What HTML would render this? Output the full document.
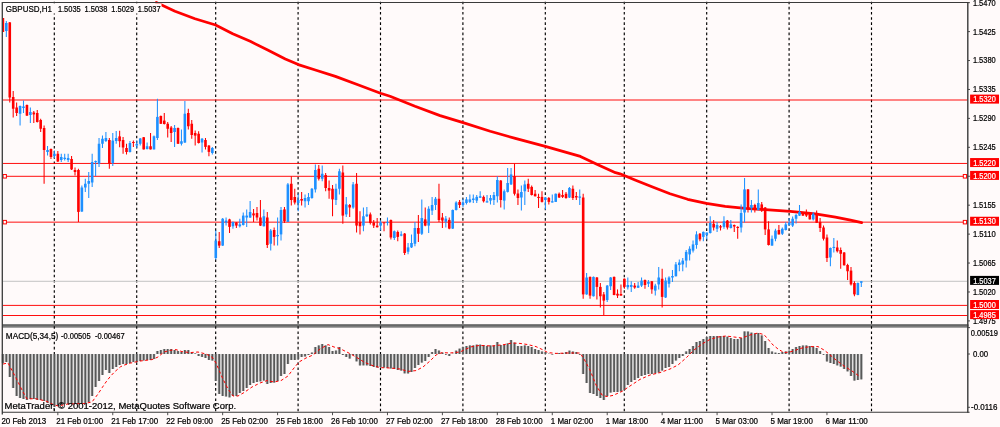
<!DOCTYPE html>
<html lang="en"><head><meta charset="utf-8"><title>GBPUSD,H1</title>
<style>html,body{margin:0;padding:0;background:#fffafa;overflow:hidden}svg{display:block;will-change:transform}text{font-family:"Liberation Sans", Arial, sans-serif;stroke:#000;stroke-width:0.22px}</style>
</head><body>
<svg width="1000" height="427" viewBox="0 0 1000 427">
<rect x="0" y="0" width="1000" height="427" fill="#fffafa"/>
<rect x="2" y="324.1" width="966.4" height="3.6" fill="#7e7e7e"/>
<rect x="2" y="324.7" width="966.4" height="1.4" fill="#676767"/>
<g stroke="#000" stroke-width="1.15" stroke-dasharray="2.6 2.552" fill="none">
<line x1="54.3" y1="1.68" x2="54.3" y2="412"/>
<line x1="136.71" y1="1.68" x2="136.71" y2="412"/>
<line x1="215.68" y1="1.68" x2="215.68" y2="412"/>
<line x1="298.09" y1="1.68" x2="298.09" y2="412"/>
<line x1="380.5" y1="1.68" x2="380.5" y2="412"/>
<line x1="462.9" y1="1.68" x2="462.9" y2="412"/>
<line x1="545.31" y1="1.68" x2="545.31" y2="412"/>
<line x1="624.28" y1="1.68" x2="624.28" y2="412"/>
<line x1="706.69" y1="1.68" x2="706.69" y2="412"/>
<line x1="789.09" y1="1.68" x2="789.09" y2="412"/>
<line x1="871.5" y1="1.68" x2="871.5" y2="412"/>
</g>
<line x1="3" y1="281.3" x2="967" y2="281.3" stroke="#c0c0c0" stroke-width="0.95"/>
<g stroke="#ff0000" stroke-width="0.95">
<line x1="3" y1="100" x2="967.3" y2="100"/>
<line x1="3" y1="163.45" x2="967.3" y2="163.45"/>
<line x1="3" y1="176.3" x2="967.3" y2="176.3"/>
<line x1="3" y1="222.15" x2="967.3" y2="222.15"/>
<line x1="3" y1="305.4" x2="967.3" y2="305.4"/>
<line x1="3" y1="315.5" x2="967.3" y2="315.5"/>
</g>
<g stroke="#cdcdcd" stroke-width="3.1">
<line x1="2.9" y1="354" x2="2.9" y2="363"/>
<line x1="6.33" y1="354" x2="6.33" y2="362"/>
<line x1="9.77" y1="354" x2="9.77" y2="377"/>
<line x1="13.2" y1="354" x2="13.2" y2="388"/>
<line x1="16.63" y1="354" x2="16.63" y2="396"/>
<line x1="20.07" y1="354" x2="20.07" y2="398"/>
<line x1="23.5" y1="354" x2="23.5" y2="399"/>
<line x1="26.94" y1="354" x2="26.94" y2="400"/>
<line x1="30.37" y1="354" x2="30.37" y2="399"/>
<line x1="33.8" y1="354" x2="33.8" y2="399"/>
<line x1="37.24" y1="354" x2="37.24" y2="400"/>
<line x1="40.67" y1="354" x2="40.67" y2="400"/>
<line x1="44.1" y1="354" x2="44.1" y2="401"/>
<line x1="47.54" y1="354" x2="47.54" y2="403"/>
<line x1="50.97" y1="354" x2="50.97" y2="405"/>
<line x1="54.4" y1="354" x2="54.4" y2="407"/>
<line x1="57.84" y1="354" x2="57.84" y2="406"/>
<line x1="61.27" y1="354" x2="61.27" y2="405"/>
<line x1="64.7" y1="354" x2="64.7" y2="404"/>
<line x1="68.14" y1="354" x2="68.14" y2="404"/>
<line x1="71.57" y1="354" x2="71.57" y2="404"/>
<line x1="75.01" y1="354" x2="75.01" y2="404"/>
<line x1="78.44" y1="354" x2="78.44" y2="404"/>
<line x1="81.87" y1="354" x2="81.87" y2="404"/>
<line x1="85.31" y1="354" x2="85.31" y2="403"/>
<line x1="88.74" y1="354" x2="88.74" y2="402"/>
<line x1="92.17" y1="354" x2="92.17" y2="396"/>
<line x1="95.61" y1="354" x2="95.61" y2="387"/>
<line x1="99.04" y1="354" x2="99.04" y2="381"/>
<line x1="102.47" y1="354" x2="102.47" y2="375"/>
<line x1="105.91" y1="354" x2="105.91" y2="370"/>
<line x1="109.34" y1="354" x2="109.34" y2="373"/>
<line x1="112.78" y1="354" x2="112.78" y2="369"/>
<line x1="116.21" y1="354" x2="116.21" y2="367"/>
<line x1="119.64" y1="354" x2="119.64" y2="365"/>
<line x1="123.08" y1="354" x2="123.08" y2="364"/>
<line x1="126.51" y1="354" x2="126.51" y2="364"/>
<line x1="129.94" y1="354" x2="129.94" y2="363"/>
<line x1="133.38" y1="354" x2="133.38" y2="362"/>
<line x1="136.81" y1="354" x2="136.81" y2="362"/>
<line x1="140.24" y1="354" x2="140.24" y2="361"/>
<line x1="143.68" y1="354" x2="143.68" y2="360.5"/>
<line x1="147.11" y1="354" x2="147.11" y2="360"/>
<line x1="150.54" y1="354" x2="150.54" y2="360"/>
<line x1="153.98" y1="354" x2="153.98" y2="359"/>
<line x1="157.41" y1="354" x2="157.41" y2="351"/>
<line x1="160.85" y1="354" x2="160.85" y2="350"/>
<line x1="164.28" y1="354" x2="164.28" y2="349"/>
<line x1="167.71" y1="354" x2="167.71" y2="349"/>
<line x1="171.15" y1="354" x2="171.15" y2="349"/>
<line x1="174.58" y1="354" x2="174.58" y2="350"/>
<line x1="178.01" y1="354" x2="178.01" y2="351"/>
<line x1="181.45" y1="354" x2="181.45" y2="352"/>
<line x1="184.88" y1="354" x2="184.88" y2="350"/>
<line x1="188.31" y1="354" x2="188.31" y2="350"/>
<line x1="191.75" y1="354" x2="191.75" y2="352.6"/>
<line x1="195.18" y1="354" x2="195.18" y2="353.4"/>
<line x1="198.62" y1="354" x2="198.62" y2="356"/>
<line x1="202.05" y1="354" x2="202.05" y2="357"/>
<line x1="205.48" y1="354" x2="205.48" y2="358"/>
<line x1="208.92" y1="354" x2="208.92" y2="360"/>
<line x1="212.35" y1="354" x2="212.35" y2="360.6"/>
<line x1="215.78" y1="354" x2="215.78" y2="381"/>
<line x1="219.22" y1="354" x2="219.22" y2="394"/>
<line x1="222.65" y1="354" x2="222.65" y2="396"/>
<line x1="226.08" y1="354" x2="226.08" y2="396.6"/>
<line x1="229.52" y1="354" x2="229.52" y2="397.4"/>
<line x1="232.95" y1="354" x2="232.95" y2="396"/>
<line x1="236.38" y1="354" x2="236.38" y2="396"/>
<line x1="239.82" y1="354" x2="239.82" y2="393"/>
<line x1="243.25" y1="354" x2="243.25" y2="391"/>
<line x1="246.69" y1="354" x2="246.69" y2="388"/>
<line x1="250.12" y1="354" x2="250.12" y2="385"/>
<line x1="253.55" y1="354" x2="253.55" y2="383"/>
<line x1="256.99" y1="354" x2="256.99" y2="382"/>
<line x1="260.42" y1="354" x2="260.42" y2="381.4"/>
<line x1="263.85" y1="354" x2="263.85" y2="380.6"/>
<line x1="267.29" y1="354" x2="267.29" y2="384"/>
<line x1="270.72" y1="354" x2="270.72" y2="383"/>
<line x1="274.15" y1="354" x2="274.15" y2="382.6"/>
<line x1="277.59" y1="354" x2="277.59" y2="381"/>
<line x1="281.02" y1="354" x2="281.02" y2="376"/>
<line x1="284.46" y1="354" x2="284.46" y2="374"/>
<line x1="287.89" y1="354" x2="287.89" y2="364"/>
<line x1="291.32" y1="354" x2="291.32" y2="360"/>
<line x1="294.76" y1="354" x2="294.76" y2="360"/>
<line x1="298.19" y1="354" x2="298.19" y2="359"/>
<line x1="301.62" y1="354" x2="301.62" y2="357"/>
<line x1="305.06" y1="354" x2="305.06" y2="356.6"/>
<line x1="308.49" y1="354" x2="308.49" y2="355"/>
<line x1="311.92" y1="354" x2="311.92" y2="352.6"/>
<line x1="315.36" y1="354" x2="315.36" y2="347"/>
<line x1="318.79" y1="354" x2="318.79" y2="345.4"/>
<line x1="322.22" y1="354" x2="322.22" y2="344"/>
<line x1="325.66" y1="354" x2="325.66" y2="345.4"/>
<line x1="329.09" y1="354" x2="329.09" y2="347"/>
<line x1="332.53" y1="354" x2="332.53" y2="351"/>
<line x1="335.96" y1="354" x2="335.96" y2="350.6"/>
<line x1="339.39" y1="354" x2="339.39" y2="347"/>
<line x1="342.83" y1="354" x2="342.83" y2="355"/>
<line x1="346.26" y1="354" x2="346.26" y2="357"/>
<line x1="349.69" y1="354" x2="349.69" y2="358.6"/>
<line x1="353.13" y1="354" x2="353.13" y2="355"/>
<line x1="356.56" y1="354" x2="356.56" y2="361.4"/>
<line x1="359.99" y1="354" x2="359.99" y2="365.4"/>
<line x1="363.43" y1="354" x2="363.43" y2="365.4"/>
<line x1="366.86" y1="354" x2="366.86" y2="365.4"/>
<line x1="370.3" y1="354" x2="370.3" y2="366"/>
<line x1="373.73" y1="354" x2="373.73" y2="367"/>
<line x1="377.16" y1="354" x2="377.16" y2="367.6"/>
<line x1="380.6" y1="354" x2="380.6" y2="367"/>
<line x1="384.03" y1="354" x2="384.03" y2="367.6"/>
<line x1="387.46" y1="354" x2="387.46" y2="368"/>
<line x1="390.9" y1="354" x2="390.9" y2="368.6"/>
<line x1="394.33" y1="354" x2="394.33" y2="369"/>
<line x1="397.76" y1="354" x2="397.76" y2="370"/>
<line x1="401.2" y1="354" x2="401.2" y2="370.6"/>
<line x1="404.63" y1="354" x2="404.63" y2="373.4"/>
<line x1="408.06" y1="354" x2="408.06" y2="373.4"/>
<line x1="411.5" y1="354" x2="411.5" y2="372"/>
<line x1="414.93" y1="354" x2="414.93" y2="368"/>
<line x1="418.37" y1="354" x2="418.37" y2="365"/>
<line x1="421.8" y1="354" x2="421.8" y2="362.6"/>
<line x1="425.23" y1="354" x2="425.23" y2="361"/>
<line x1="428.67" y1="354" x2="428.67" y2="357"/>
<line x1="432.1" y1="354" x2="432.1" y2="352"/>
<line x1="435.53" y1="354" x2="435.53" y2="349"/>
<line x1="438.97" y1="354" x2="438.97" y2="350.6"/>
<line x1="442.4" y1="354" x2="442.4" y2="352.6"/>
<line x1="449.27" y1="354" x2="449.27" y2="356"/>
<line x1="456.14" y1="354" x2="456.14" y2="350.6"/>
<line x1="459.57" y1="354" x2="459.57" y2="348.6"/>
<line x1="463" y1="354" x2="463" y2="347"/>
<line x1="466.44" y1="354" x2="466.44" y2="346"/>
<line x1="469.87" y1="354" x2="469.87" y2="345.4"/>
<line x1="473.3" y1="354" x2="473.3" y2="345.4"/>
<line x1="476.74" y1="354" x2="476.74" y2="344.6"/>
<line x1="480.17" y1="354" x2="480.17" y2="344.6"/>
<line x1="483.6" y1="354" x2="483.6" y2="345"/>
<line x1="487.04" y1="354" x2="487.04" y2="346"/>
<line x1="490.47" y1="354" x2="490.47" y2="345.4"/>
<line x1="493.9" y1="354" x2="493.9" y2="345.4"/>
<line x1="497.34" y1="354" x2="497.34" y2="342"/>
<line x1="500.77" y1="354" x2="500.77" y2="345"/>
<line x1="504.21" y1="354" x2="504.21" y2="345"/>
<line x1="507.64" y1="354" x2="507.64" y2="343.4"/>
<line x1="511.07" y1="354" x2="511.07" y2="340"/>
<line x1="514.51" y1="354" x2="514.51" y2="342.6"/>
<line x1="517.94" y1="354" x2="517.94" y2="346"/>
<line x1="521.37" y1="354" x2="521.37" y2="346"/>
<line x1="524.81" y1="354" x2="524.81" y2="345.4"/>
<line x1="528.24" y1="354" x2="528.24" y2="346"/>
<line x1="531.67" y1="354" x2="531.67" y2="347"/>
<line x1="535.11" y1="354" x2="535.11" y2="349"/>
<line x1="538.54" y1="354" x2="538.54" y2="350"/>
<line x1="541.98" y1="354" x2="541.98" y2="351.4"/>
<line x1="545.41" y1="354" x2="545.41" y2="352"/>
<line x1="552.28" y1="354" x2="552.28" y2="354.6"/>
<line x1="559.14" y1="354" x2="559.14" y2="353"/>
<line x1="562.58" y1="354" x2="562.58" y2="353"/>
<line x1="566.01" y1="354" x2="566.01" y2="352"/>
<line x1="569.44" y1="354" x2="569.44" y2="350.6"/>
<line x1="572.88" y1="354" x2="572.88" y2="351.4"/>
<line x1="576.31" y1="354" x2="576.31" y2="352"/>
<line x1="583.18" y1="354" x2="583.18" y2="374"/>
<line x1="586.61" y1="354" x2="586.61" y2="383"/>
<line x1="590.05" y1="354" x2="590.05" y2="393"/>
<line x1="593.48" y1="354" x2="593.48" y2="394"/>
<line x1="596.91" y1="354" x2="596.91" y2="396"/>
<line x1="600.35" y1="354" x2="600.35" y2="398"/>
<line x1="603.78" y1="354" x2="603.78" y2="400"/>
<line x1="607.21" y1="354" x2="607.21" y2="396"/>
<line x1="610.65" y1="354" x2="610.65" y2="392.6"/>
<line x1="614.08" y1="354" x2="614.08" y2="392"/>
<line x1="617.51" y1="354" x2="617.51" y2="392"/>
<line x1="620.95" y1="354" x2="620.95" y2="391.4"/>
<line x1="624.38" y1="354" x2="624.38" y2="390"/>
<line x1="627.82" y1="354" x2="627.82" y2="385"/>
<line x1="631.25" y1="354" x2="631.25" y2="382"/>
<line x1="634.68" y1="354" x2="634.68" y2="380"/>
<line x1="638.12" y1="354" x2="638.12" y2="378"/>
<line x1="641.55" y1="354" x2="641.55" y2="376"/>
<line x1="644.98" y1="354" x2="644.98" y2="375"/>
<line x1="648.42" y1="354" x2="648.42" y2="374"/>
<line x1="651.85" y1="354" x2="651.85" y2="374"/>
<line x1="655.28" y1="354" x2="655.28" y2="373.4"/>
<line x1="658.72" y1="354" x2="658.72" y2="372.6"/>
<line x1="662.15" y1="354" x2="662.15" y2="370.6"/>
<line x1="665.58" y1="354" x2="665.58" y2="368"/>
<line x1="669.02" y1="354" x2="669.02" y2="367"/>
<line x1="672.45" y1="354" x2="672.45" y2="364"/>
<line x1="675.89" y1="354" x2="675.89" y2="360.6"/>
<line x1="679.32" y1="354" x2="679.32" y2="358"/>
<line x1="682.75" y1="354" x2="682.75" y2="356"/>
<line x1="686.19" y1="354" x2="686.19" y2="351.4"/>
<line x1="689.62" y1="354" x2="689.62" y2="349"/>
<line x1="693.05" y1="354" x2="693.05" y2="346"/>
<line x1="696.49" y1="354" x2="696.49" y2="342"/>
<line x1="699.92" y1="354" x2="699.92" y2="341"/>
<line x1="703.35" y1="354" x2="703.35" y2="339"/>
<line x1="706.79" y1="354" x2="706.79" y2="337"/>
<line x1="710.22" y1="354" x2="710.22" y2="336"/>
<line x1="713.66" y1="354" x2="713.66" y2="336"/>
<line x1="717.09" y1="354" x2="717.09" y2="336"/>
<line x1="720.52" y1="354" x2="720.52" y2="336"/>
<line x1="723.96" y1="354" x2="723.96" y2="336"/>
<line x1="727.39" y1="354" x2="727.39" y2="336.6"/>
<line x1="730.82" y1="354" x2="730.82" y2="338"/>
<line x1="734.26" y1="354" x2="734.26" y2="339"/>
<line x1="737.69" y1="354" x2="737.69" y2="339"/>
<line x1="741.12" y1="354" x2="741.12" y2="338"/>
<line x1="744.56" y1="354" x2="744.56" y2="331.4"/>
<line x1="747.99" y1="354" x2="747.99" y2="331.4"/>
<line x1="751.42" y1="354" x2="751.42" y2="332.6"/>
<line x1="754.86" y1="354" x2="754.86" y2="333.4"/>
<line x1="758.29" y1="354" x2="758.29" y2="333"/>
<line x1="761.73" y1="354" x2="761.73" y2="335.4"/>
<line x1="765.16" y1="354" x2="765.16" y2="341"/>
<line x1="768.59" y1="354" x2="768.59" y2="348"/>
<line x1="772.03" y1="354" x2="772.03" y2="351.4"/>
<line x1="775.46" y1="354" x2="775.46" y2="352.6"/>
<line x1="778.89" y1="354" x2="778.89" y2="353"/>
<line x1="782.33" y1="354" x2="782.33" y2="352"/>
<line x1="785.76" y1="354" x2="785.76" y2="351.4"/>
<line x1="789.19" y1="354" x2="789.19" y2="350.6"/>
<line x1="792.63" y1="354" x2="792.63" y2="349"/>
<line x1="796.06" y1="354" x2="796.06" y2="347"/>
<line x1="799.5" y1="354" x2="799.5" y2="346"/>
<line x1="802.93" y1="354" x2="802.93" y2="345.4"/>
<line x1="806.36" y1="354" x2="806.36" y2="345.4"/>
<line x1="809.8" y1="354" x2="809.8" y2="346"/>
<line x1="813.23" y1="354" x2="813.23" y2="346.6"/>
<line x1="816.66" y1="354" x2="816.66" y2="348"/>
<line x1="820.1" y1="354" x2="820.1" y2="351"/>
<line x1="826.96" y1="354" x2="826.96" y2="361.4"/>
<line x1="830.4" y1="354" x2="830.4" y2="363"/>
<line x1="833.83" y1="354" x2="833.83" y2="364"/>
<line x1="837.26" y1="354" x2="837.26" y2="365.4"/>
<line x1="840.7" y1="354" x2="840.7" y2="366.6"/>
<line x1="844.13" y1="354" x2="844.13" y2="369"/>
<line x1="847.57" y1="354" x2="847.57" y2="371.4"/>
<line x1="851" y1="354" x2="851" y2="376"/>
<line x1="854.43" y1="354" x2="854.43" y2="380.6"/>
<line x1="857.87" y1="354" x2="857.87" y2="380"/>
<line x1="861.3" y1="354" x2="861.3" y2="379.4"/>
</g>
<g stroke="#585858" stroke-width="1.75">
<line x1="2.9" y1="354" x2="2.9" y2="363"/>
<line x1="6.33" y1="354" x2="6.33" y2="362"/>
<line x1="9.77" y1="354" x2="9.77" y2="377"/>
<line x1="13.2" y1="354" x2="13.2" y2="388"/>
<line x1="16.63" y1="354" x2="16.63" y2="396"/>
<line x1="20.07" y1="354" x2="20.07" y2="398"/>
<line x1="23.5" y1="354" x2="23.5" y2="399"/>
<line x1="26.94" y1="354" x2="26.94" y2="400"/>
<line x1="30.37" y1="354" x2="30.37" y2="399"/>
<line x1="33.8" y1="354" x2="33.8" y2="399"/>
<line x1="37.24" y1="354" x2="37.24" y2="400"/>
<line x1="40.67" y1="354" x2="40.67" y2="400"/>
<line x1="44.1" y1="354" x2="44.1" y2="401"/>
<line x1="47.54" y1="354" x2="47.54" y2="403"/>
<line x1="50.97" y1="354" x2="50.97" y2="405"/>
<line x1="54.4" y1="354" x2="54.4" y2="407"/>
<line x1="57.84" y1="354" x2="57.84" y2="406"/>
<line x1="61.27" y1="354" x2="61.27" y2="405"/>
<line x1="64.7" y1="354" x2="64.7" y2="404"/>
<line x1="68.14" y1="354" x2="68.14" y2="404"/>
<line x1="71.57" y1="354" x2="71.57" y2="404"/>
<line x1="75.01" y1="354" x2="75.01" y2="404"/>
<line x1="78.44" y1="354" x2="78.44" y2="404"/>
<line x1="81.87" y1="354" x2="81.87" y2="404"/>
<line x1="85.31" y1="354" x2="85.31" y2="403"/>
<line x1="88.74" y1="354" x2="88.74" y2="402"/>
<line x1="92.17" y1="354" x2="92.17" y2="396"/>
<line x1="95.61" y1="354" x2="95.61" y2="387"/>
<line x1="99.04" y1="354" x2="99.04" y2="381"/>
<line x1="102.47" y1="354" x2="102.47" y2="375"/>
<line x1="105.91" y1="354" x2="105.91" y2="370"/>
<line x1="109.34" y1="354" x2="109.34" y2="373"/>
<line x1="112.78" y1="354" x2="112.78" y2="369"/>
<line x1="116.21" y1="354" x2="116.21" y2="367"/>
<line x1="119.64" y1="354" x2="119.64" y2="365"/>
<line x1="123.08" y1="354" x2="123.08" y2="364"/>
<line x1="126.51" y1="354" x2="126.51" y2="364"/>
<line x1="129.94" y1="354" x2="129.94" y2="363"/>
<line x1="133.38" y1="354" x2="133.38" y2="362"/>
<line x1="136.81" y1="354" x2="136.81" y2="362"/>
<line x1="140.24" y1="354" x2="140.24" y2="361"/>
<line x1="143.68" y1="354" x2="143.68" y2="360.5"/>
<line x1="147.11" y1="354" x2="147.11" y2="360"/>
<line x1="150.54" y1="354" x2="150.54" y2="360"/>
<line x1="153.98" y1="354" x2="153.98" y2="359"/>
<line x1="157.41" y1="354" x2="157.41" y2="351"/>
<line x1="160.85" y1="354" x2="160.85" y2="350"/>
<line x1="164.28" y1="354" x2="164.28" y2="349"/>
<line x1="167.71" y1="354" x2="167.71" y2="349"/>
<line x1="171.15" y1="354" x2="171.15" y2="349"/>
<line x1="174.58" y1="354" x2="174.58" y2="350"/>
<line x1="178.01" y1="354" x2="178.01" y2="351"/>
<line x1="181.45" y1="354" x2="181.45" y2="352"/>
<line x1="184.88" y1="354" x2="184.88" y2="350"/>
<line x1="188.31" y1="354" x2="188.31" y2="350"/>
<line x1="191.75" y1="354" x2="191.75" y2="352.6"/>
<line x1="195.18" y1="354" x2="195.18" y2="353.4"/>
<line x1="198.62" y1="354" x2="198.62" y2="356"/>
<line x1="202.05" y1="354" x2="202.05" y2="357"/>
<line x1="205.48" y1="354" x2="205.48" y2="358"/>
<line x1="208.92" y1="354" x2="208.92" y2="360"/>
<line x1="212.35" y1="354" x2="212.35" y2="360.6"/>
<line x1="215.78" y1="354" x2="215.78" y2="381"/>
<line x1="219.22" y1="354" x2="219.22" y2="394"/>
<line x1="222.65" y1="354" x2="222.65" y2="396"/>
<line x1="226.08" y1="354" x2="226.08" y2="396.6"/>
<line x1="229.52" y1="354" x2="229.52" y2="397.4"/>
<line x1="232.95" y1="354" x2="232.95" y2="396"/>
<line x1="236.38" y1="354" x2="236.38" y2="396"/>
<line x1="239.82" y1="354" x2="239.82" y2="393"/>
<line x1="243.25" y1="354" x2="243.25" y2="391"/>
<line x1="246.69" y1="354" x2="246.69" y2="388"/>
<line x1="250.12" y1="354" x2="250.12" y2="385"/>
<line x1="253.55" y1="354" x2="253.55" y2="383"/>
<line x1="256.99" y1="354" x2="256.99" y2="382"/>
<line x1="260.42" y1="354" x2="260.42" y2="381.4"/>
<line x1="263.85" y1="354" x2="263.85" y2="380.6"/>
<line x1="267.29" y1="354" x2="267.29" y2="384"/>
<line x1="270.72" y1="354" x2="270.72" y2="383"/>
<line x1="274.15" y1="354" x2="274.15" y2="382.6"/>
<line x1="277.59" y1="354" x2="277.59" y2="381"/>
<line x1="281.02" y1="354" x2="281.02" y2="376"/>
<line x1="284.46" y1="354" x2="284.46" y2="374"/>
<line x1="287.89" y1="354" x2="287.89" y2="364"/>
<line x1="291.32" y1="354" x2="291.32" y2="360"/>
<line x1="294.76" y1="354" x2="294.76" y2="360"/>
<line x1="298.19" y1="354" x2="298.19" y2="359"/>
<line x1="301.62" y1="354" x2="301.62" y2="357"/>
<line x1="305.06" y1="354" x2="305.06" y2="356.6"/>
<line x1="308.49" y1="354" x2="308.49" y2="355"/>
<line x1="311.92" y1="354" x2="311.92" y2="352.6"/>
<line x1="315.36" y1="354" x2="315.36" y2="347"/>
<line x1="318.79" y1="354" x2="318.79" y2="345.4"/>
<line x1="322.22" y1="354" x2="322.22" y2="344"/>
<line x1="325.66" y1="354" x2="325.66" y2="345.4"/>
<line x1="329.09" y1="354" x2="329.09" y2="347"/>
<line x1="332.53" y1="354" x2="332.53" y2="351"/>
<line x1="335.96" y1="354" x2="335.96" y2="350.6"/>
<line x1="339.39" y1="354" x2="339.39" y2="347"/>
<line x1="342.83" y1="354" x2="342.83" y2="355"/>
<line x1="346.26" y1="354" x2="346.26" y2="357"/>
<line x1="349.69" y1="354" x2="349.69" y2="358.6"/>
<line x1="353.13" y1="354" x2="353.13" y2="355"/>
<line x1="356.56" y1="354" x2="356.56" y2="361.4"/>
<line x1="359.99" y1="354" x2="359.99" y2="365.4"/>
<line x1="363.43" y1="354" x2="363.43" y2="365.4"/>
<line x1="366.86" y1="354" x2="366.86" y2="365.4"/>
<line x1="370.3" y1="354" x2="370.3" y2="366"/>
<line x1="373.73" y1="354" x2="373.73" y2="367"/>
<line x1="377.16" y1="354" x2="377.16" y2="367.6"/>
<line x1="380.6" y1="354" x2="380.6" y2="367"/>
<line x1="384.03" y1="354" x2="384.03" y2="367.6"/>
<line x1="387.46" y1="354" x2="387.46" y2="368"/>
<line x1="390.9" y1="354" x2="390.9" y2="368.6"/>
<line x1="394.33" y1="354" x2="394.33" y2="369"/>
<line x1="397.76" y1="354" x2="397.76" y2="370"/>
<line x1="401.2" y1="354" x2="401.2" y2="370.6"/>
<line x1="404.63" y1="354" x2="404.63" y2="373.4"/>
<line x1="408.06" y1="354" x2="408.06" y2="373.4"/>
<line x1="411.5" y1="354" x2="411.5" y2="372"/>
<line x1="414.93" y1="354" x2="414.93" y2="368"/>
<line x1="418.37" y1="354" x2="418.37" y2="365"/>
<line x1="421.8" y1="354" x2="421.8" y2="362.6"/>
<line x1="425.23" y1="354" x2="425.23" y2="361"/>
<line x1="428.67" y1="354" x2="428.67" y2="357"/>
<line x1="432.1" y1="354" x2="432.1" y2="352"/>
<line x1="435.53" y1="354" x2="435.53" y2="349"/>
<line x1="438.97" y1="354" x2="438.97" y2="350.6"/>
<line x1="442.4" y1="354" x2="442.4" y2="352.6"/>
<line x1="445.83" y1="354" x2="445.83" y2="354.9"/>
<line x1="449.27" y1="354" x2="449.27" y2="356"/>
<line x1="452.7" y1="354" x2="452.7" y2="353.6"/>
<line x1="456.14" y1="354" x2="456.14" y2="350.6"/>
<line x1="459.57" y1="354" x2="459.57" y2="348.6"/>
<line x1="463" y1="354" x2="463" y2="347"/>
<line x1="466.44" y1="354" x2="466.44" y2="346"/>
<line x1="469.87" y1="354" x2="469.87" y2="345.4"/>
<line x1="473.3" y1="354" x2="473.3" y2="345.4"/>
<line x1="476.74" y1="354" x2="476.74" y2="344.6"/>
<line x1="480.17" y1="354" x2="480.17" y2="344.6"/>
<line x1="483.6" y1="354" x2="483.6" y2="345"/>
<line x1="487.04" y1="354" x2="487.04" y2="346"/>
<line x1="490.47" y1="354" x2="490.47" y2="345.4"/>
<line x1="493.9" y1="354" x2="493.9" y2="345.4"/>
<line x1="497.34" y1="354" x2="497.34" y2="342"/>
<line x1="500.77" y1="354" x2="500.77" y2="345"/>
<line x1="504.21" y1="354" x2="504.21" y2="345"/>
<line x1="507.64" y1="354" x2="507.64" y2="343.4"/>
<line x1="511.07" y1="354" x2="511.07" y2="340"/>
<line x1="514.51" y1="354" x2="514.51" y2="342.6"/>
<line x1="517.94" y1="354" x2="517.94" y2="346"/>
<line x1="521.37" y1="354" x2="521.37" y2="346"/>
<line x1="524.81" y1="354" x2="524.81" y2="345.4"/>
<line x1="528.24" y1="354" x2="528.24" y2="346"/>
<line x1="531.67" y1="354" x2="531.67" y2="347"/>
<line x1="535.11" y1="354" x2="535.11" y2="349"/>
<line x1="538.54" y1="354" x2="538.54" y2="350"/>
<line x1="541.98" y1="354" x2="541.98" y2="351.4"/>
<line x1="545.41" y1="354" x2="545.41" y2="352"/>
<line x1="548.84" y1="354" x2="548.84" y2="353.6"/>
<line x1="552.28" y1="354" x2="552.28" y2="354.6"/>
<line x1="555.71" y1="354" x2="555.71" y2="353.6"/>
<line x1="559.14" y1="354" x2="559.14" y2="353"/>
<line x1="562.58" y1="354" x2="562.58" y2="353"/>
<line x1="566.01" y1="354" x2="566.01" y2="352"/>
<line x1="569.44" y1="354" x2="569.44" y2="350.6"/>
<line x1="572.88" y1="354" x2="572.88" y2="351.4"/>
<line x1="576.31" y1="354" x2="576.31" y2="352"/>
<line x1="579.74" y1="354" x2="579.74" y2="354.9"/>
<line x1="583.18" y1="354" x2="583.18" y2="374"/>
<line x1="586.61" y1="354" x2="586.61" y2="383"/>
<line x1="590.05" y1="354" x2="590.05" y2="393"/>
<line x1="593.48" y1="354" x2="593.48" y2="394"/>
<line x1="596.91" y1="354" x2="596.91" y2="396"/>
<line x1="600.35" y1="354" x2="600.35" y2="398"/>
<line x1="603.78" y1="354" x2="603.78" y2="400"/>
<line x1="607.21" y1="354" x2="607.21" y2="396"/>
<line x1="610.65" y1="354" x2="610.65" y2="392.6"/>
<line x1="614.08" y1="354" x2="614.08" y2="392"/>
<line x1="617.51" y1="354" x2="617.51" y2="392"/>
<line x1="620.95" y1="354" x2="620.95" y2="391.4"/>
<line x1="624.38" y1="354" x2="624.38" y2="390"/>
<line x1="627.82" y1="354" x2="627.82" y2="385"/>
<line x1="631.25" y1="354" x2="631.25" y2="382"/>
<line x1="634.68" y1="354" x2="634.68" y2="380"/>
<line x1="638.12" y1="354" x2="638.12" y2="378"/>
<line x1="641.55" y1="354" x2="641.55" y2="376"/>
<line x1="644.98" y1="354" x2="644.98" y2="375"/>
<line x1="648.42" y1="354" x2="648.42" y2="374"/>
<line x1="651.85" y1="354" x2="651.85" y2="374"/>
<line x1="655.28" y1="354" x2="655.28" y2="373.4"/>
<line x1="658.72" y1="354" x2="658.72" y2="372.6"/>
<line x1="662.15" y1="354" x2="662.15" y2="370.6"/>
<line x1="665.58" y1="354" x2="665.58" y2="368"/>
<line x1="669.02" y1="354" x2="669.02" y2="367"/>
<line x1="672.45" y1="354" x2="672.45" y2="364"/>
<line x1="675.89" y1="354" x2="675.89" y2="360.6"/>
<line x1="679.32" y1="354" x2="679.32" y2="358"/>
<line x1="682.75" y1="354" x2="682.75" y2="356"/>
<line x1="686.19" y1="354" x2="686.19" y2="351.4"/>
<line x1="689.62" y1="354" x2="689.62" y2="349"/>
<line x1="693.05" y1="354" x2="693.05" y2="346"/>
<line x1="696.49" y1="354" x2="696.49" y2="342"/>
<line x1="699.92" y1="354" x2="699.92" y2="341"/>
<line x1="703.35" y1="354" x2="703.35" y2="339"/>
<line x1="706.79" y1="354" x2="706.79" y2="337"/>
<line x1="710.22" y1="354" x2="710.22" y2="336"/>
<line x1="713.66" y1="354" x2="713.66" y2="336"/>
<line x1="717.09" y1="354" x2="717.09" y2="336"/>
<line x1="720.52" y1="354" x2="720.52" y2="336"/>
<line x1="723.96" y1="354" x2="723.96" y2="336"/>
<line x1="727.39" y1="354" x2="727.39" y2="336.6"/>
<line x1="730.82" y1="354" x2="730.82" y2="338"/>
<line x1="734.26" y1="354" x2="734.26" y2="339"/>
<line x1="737.69" y1="354" x2="737.69" y2="339"/>
<line x1="741.12" y1="354" x2="741.12" y2="338"/>
<line x1="744.56" y1="354" x2="744.56" y2="331.4"/>
<line x1="747.99" y1="354" x2="747.99" y2="331.4"/>
<line x1="751.42" y1="354" x2="751.42" y2="332.6"/>
<line x1="754.86" y1="354" x2="754.86" y2="333.4"/>
<line x1="758.29" y1="354" x2="758.29" y2="333"/>
<line x1="761.73" y1="354" x2="761.73" y2="335.4"/>
<line x1="765.16" y1="354" x2="765.16" y2="341"/>
<line x1="768.59" y1="354" x2="768.59" y2="348"/>
<line x1="772.03" y1="354" x2="772.03" y2="351.4"/>
<line x1="775.46" y1="354" x2="775.46" y2="352.6"/>
<line x1="778.89" y1="354" x2="778.89" y2="353"/>
<line x1="782.33" y1="354" x2="782.33" y2="352"/>
<line x1="785.76" y1="354" x2="785.76" y2="351.4"/>
<line x1="789.19" y1="354" x2="789.19" y2="350.6"/>
<line x1="792.63" y1="354" x2="792.63" y2="349"/>
<line x1="796.06" y1="354" x2="796.06" y2="347"/>
<line x1="799.5" y1="354" x2="799.5" y2="346"/>
<line x1="802.93" y1="354" x2="802.93" y2="345.4"/>
<line x1="806.36" y1="354" x2="806.36" y2="345.4"/>
<line x1="809.8" y1="354" x2="809.8" y2="346"/>
<line x1="813.23" y1="354" x2="813.23" y2="346.6"/>
<line x1="816.66" y1="354" x2="816.66" y2="348"/>
<line x1="820.1" y1="354" x2="820.1" y2="351"/>
<line x1="823.53" y1="354" x2="823.53" y2="354.9"/>
<line x1="826.96" y1="354" x2="826.96" y2="361.4"/>
<line x1="830.4" y1="354" x2="830.4" y2="363"/>
<line x1="833.83" y1="354" x2="833.83" y2="364"/>
<line x1="837.26" y1="354" x2="837.26" y2="365.4"/>
<line x1="840.7" y1="354" x2="840.7" y2="366.6"/>
<line x1="844.13" y1="354" x2="844.13" y2="369"/>
<line x1="847.57" y1="354" x2="847.57" y2="371.4"/>
<line x1="851" y1="354" x2="851" y2="376"/>
<line x1="854.43" y1="354" x2="854.43" y2="380.6"/>
<line x1="857.87" y1="354" x2="857.87" y2="380"/>
<line x1="861.3" y1="354" x2="861.3" y2="379.4"/>
</g>
<polyline fill="none" stroke="#ff0000" stroke-width="1" stroke-dasharray="3 2.4" points="3,364 8,363 15,376 22,390 27,399 35,398.6 46,401 53,404.4 58,406 68,404 84,403.6 92,402 98,394 102.4,387.3 106,382 110.5,376.2 115,371.5 120.6,366.7 125,364.8 130.6,363.1 139.7,361.1 152,359.6 158,357 164,352 170,350.4 176,349.6 182,351.6 190,352.6 198,352 206,354 212,357 216,363 222,377 228,389 233,396 238,396 244,392.6 252,387 260,383 267,380.6 274,382 281,380.6 288,376 294,368 299,362 306,358 313,355 320,349 328,344.6 334,347 340,348.6 348,352.6 356,357 364,362 372,365.4 380,367.6 390,368 400,369 408,371.4 416,370.6 423,367 430,361 436,355 442,352.6 450,353 460,352 466,349 472,346.6 480,345.4 492,346 504,344.6 512,343 520,343.4 528,344.6 536,346.6 542,349.4 548,352.6 556,353.4 568,353 580,353 584,359 590,370 596,385 602,395 607,396.6 613,395.4 622,391.4 630,386 640,379.4 650,375 660,372.6 670,369 678,365 686,358 694,350 702,344 710,339.4 718,337 726,336 734,337 742,338 750,335 758,333 764,334.6 769.6,341 772,344 778,349 784,352.6 790,352 796,350 802,348 810,346.6 818,346.6 824,350 829,354 836,360 844,366 852,371 859,376"/>
<polyline fill="none" stroke="#ff0000" stroke-width="2.75" stroke-linejoin="round" stroke-linecap="round" points="156.3,2.5 175,11.3 195,18.8 215.6,25 232.7,33.8 250.2,41.3 267.7,50 285.3,58.9 298.3,64.6 315.3,70 335.4,76.4 357.9,84.7 380.5,93.2 390,96.3 415,106.3 440.1,115.6 463.1,122.6 490.2,131.3 515.3,138.4 545.3,146.4 565.4,152.1 580.4,156.4 597.9,164.7 615.5,172.7 620,173.8 635,180 652.6,187 670,193.8 687.6,199.3 706.4,203.4 725.2,206.4 745.3,208.4 765.3,209.6 790.3,211.4 815.4,213.9 835.4,217.1 850.5,220.1 861.7,222.6"/>
<clipPath id="cc"><rect x="2.6" y="3" width="964.6" height="321"/></clipPath>
<g clip-path="url(#cc)">
<line x1="2.9" y1="18" x2="2.9" y2="32" stroke="#ff0000" stroke-width="1.05"/>
<rect x="1.6" y="18" width="2.6" height="14" fill="#ff0000"/>
<line x1="6.33" y1="21" x2="6.33" y2="37" stroke="#1e90ff" stroke-width="1.05"/>
<rect x="5.03" y="23" width="2.6" height="8" fill="#1e90ff"/>
<line x1="9.77" y1="22" x2="9.77" y2="102.5" stroke="#ff0000" stroke-width="1.05"/>
<rect x="8.47" y="22.4" width="2.6" height="75.1" fill="#ff0000"/>
<line x1="13.2" y1="91" x2="13.2" y2="117.5" stroke="#ff0000" stroke-width="1.05"/>
<rect x="11.9" y="97" width="2.6" height="11.75" fill="#ff0000"/>
<line x1="16.63" y1="102.5" x2="16.63" y2="116" stroke="#ff0000" stroke-width="1.05"/>
<rect x="15.33" y="107.5" width="2.6" height="5.5" fill="#ff0000"/>
<line x1="20.07" y1="105.6" x2="20.07" y2="125.6" stroke="#1e90ff" stroke-width="1.05"/>
<rect x="18.77" y="106" width="2.6" height="7.75" fill="#1e90ff"/>
<line x1="23.5" y1="100.6" x2="23.5" y2="113" stroke="#1e90ff" stroke-width="1.05"/>
<rect x="22.2" y="106.5" width="2.6" height="1.5" fill="#1e90ff"/>
<line x1="26.94" y1="104.5" x2="26.94" y2="116" stroke="#ff0000" stroke-width="1.05"/>
<rect x="25.64" y="105" width="2.6" height="10.6" fill="#ff0000"/>
<line x1="30.37" y1="107.5" x2="30.37" y2="123" stroke="#1e90ff" stroke-width="1.05"/>
<rect x="29.07" y="112" width="2.6" height="3" fill="#1e90ff"/>
<line x1="33.8" y1="111" x2="33.8" y2="123" stroke="#ff0000" stroke-width="1.05"/>
<rect x="32.5" y="112.5" width="2.6" height="1.9" fill="#ff0000"/>
<line x1="37.24" y1="110" x2="37.24" y2="122.5" stroke="#ff0000" stroke-width="1.05"/>
<rect x="35.94" y="113" width="2.6" height="9" fill="#ff0000"/>
<line x1="40.67" y1="118.75" x2="40.67" y2="132" stroke="#ff0000" stroke-width="1.05"/>
<rect x="39.37" y="120" width="2.6" height="8.75" fill="#ff0000"/>
<line x1="44.1" y1="125.6" x2="44.1" y2="183.75" stroke="#ff0000" stroke-width="1.05"/>
<rect x="42.8" y="128" width="2.6" height="22" fill="#ff0000"/>
<line x1="47.54" y1="146" x2="47.54" y2="155.6" stroke="#1e90ff" stroke-width="1.05"/>
<rect x="46.24" y="150" width="2.6" height="2" fill="#1e90ff"/>
<line x1="50.97" y1="148.5" x2="50.97" y2="159" stroke="#ff0000" stroke-width="1.05"/>
<rect x="49.67" y="149" width="2.6" height="8" fill="#ff0000"/>
<line x1="54.4" y1="150.6" x2="54.4" y2="158" stroke="#1e90ff" stroke-width="1.05"/>
<rect x="53.1" y="153.75" width="2.6" height="2.25" fill="#1e90ff"/>
<line x1="57.84" y1="151" x2="57.84" y2="162" stroke="#ff0000" stroke-width="1.05"/>
<rect x="56.54" y="153.75" width="2.6" height="7.75" fill="#ff0000"/>
<line x1="61.27" y1="153.75" x2="61.27" y2="162" stroke="#1e90ff" stroke-width="1.05"/>
<rect x="59.97" y="157" width="2.6" height="3" fill="#1e90ff"/>
<line x1="64.7" y1="153.75" x2="64.7" y2="160.6" stroke="#1e90ff" stroke-width="1.05"/>
<rect x="63.4" y="157.75" width="2.6" height="1.25" fill="#1e90ff"/>
<line x1="68.14" y1="153.75" x2="68.14" y2="162" stroke="#1e90ff" stroke-width="1.05"/>
<rect x="66.84" y="158" width="2.6" height="2" fill="#1e90ff"/>
<line x1="71.57" y1="156" x2="71.57" y2="170" stroke="#ff0000" stroke-width="1.05"/>
<rect x="70.27" y="159" width="2.6" height="10.4" fill="#ff0000"/>
<line x1="75.01" y1="167.5" x2="75.01" y2="175.6" stroke="#ff0000" stroke-width="1.05"/>
<rect x="73.71" y="170" width="2.6" height="2" fill="#ff0000"/>
<line x1="78.44" y1="168.75" x2="78.44" y2="221.9" stroke="#ff0000" stroke-width="1.05"/>
<rect x="77.14" y="170" width="2.6" height="41.9" fill="#ff0000"/>
<line x1="81.87" y1="185.6" x2="81.87" y2="212" stroke="#1e90ff" stroke-width="1.05"/>
<rect x="80.57" y="187.5" width="2.6" height="24" fill="#1e90ff"/>
<line x1="85.31" y1="178.75" x2="85.31" y2="192" stroke="#1e90ff" stroke-width="1.05"/>
<rect x="84.01" y="183.75" width="2.6" height="3.75" fill="#1e90ff"/>
<line x1="88.74" y1="172" x2="88.74" y2="198" stroke="#1e90ff" stroke-width="1.05"/>
<rect x="87.44" y="181" width="2.6" height="2.75" fill="#1e90ff"/>
<line x1="92.17" y1="153.75" x2="92.17" y2="187" stroke="#1e90ff" stroke-width="1.05"/>
<rect x="90.87" y="162" width="2.6" height="20.5" fill="#1e90ff"/>
<line x1="95.61" y1="160.6" x2="95.61" y2="176" stroke="#1e90ff" stroke-width="1.05"/>
<rect x="94.31" y="161" width="2.6" height="1.2" fill="#1e90ff"/>
<line x1="99.04" y1="138" x2="99.04" y2="167" stroke="#1e90ff" stroke-width="1.05"/>
<rect x="97.74" y="143.75" width="2.6" height="20" fill="#1e90ff"/>
<line x1="102.47" y1="135.6" x2="102.47" y2="148" stroke="#1e90ff" stroke-width="1.05"/>
<rect x="101.17" y="138.75" width="2.6" height="5" fill="#1e90ff"/>
<line x1="105.91" y1="132" x2="105.91" y2="142" stroke="#1e90ff" stroke-width="1.05"/>
<rect x="104.61" y="138" width="2.6" height="3" fill="#1e90ff"/>
<line x1="109.34" y1="138" x2="109.34" y2="168.75" stroke="#ff0000" stroke-width="1.05"/>
<rect x="108.04" y="140" width="2.6" height="23.75" fill="#ff0000"/>
<line x1="112.78" y1="133" x2="112.78" y2="166" stroke="#1e90ff" stroke-width="1.05"/>
<rect x="111.48" y="140.6" width="2.6" height="22.4" fill="#1e90ff"/>
<line x1="116.21" y1="131" x2="116.21" y2="143.75" stroke="#1e90ff" stroke-width="1.05"/>
<rect x="114.91" y="138" width="2.6" height="3" fill="#1e90ff"/>
<line x1="119.64" y1="130.8" x2="119.64" y2="147.3" stroke="#ff0000" stroke-width="1.05"/>
<rect x="118.34" y="136.4" width="2.6" height="4.8" fill="#ff0000"/>
<line x1="123.08" y1="137" x2="123.08" y2="153.75" stroke="#ff0000" stroke-width="1.05"/>
<rect x="121.78" y="140" width="2.6" height="7.5" fill="#ff0000"/>
<line x1="126.51" y1="143.75" x2="126.51" y2="154.4" stroke="#ff0000" stroke-width="1.05"/>
<rect x="125.21" y="148" width="2.6" height="4" fill="#ff0000"/>
<line x1="129.94" y1="141" x2="129.94" y2="152.5" stroke="#1e90ff" stroke-width="1.05"/>
<rect x="128.64" y="143" width="2.6" height="9" fill="#1e90ff"/>
<line x1="133.38" y1="140.6" x2="133.38" y2="147" stroke="#ff0000" stroke-width="1.05"/>
<rect x="132.08" y="142" width="2.6" height="1" fill="#ff0000"/>
<line x1="136.81" y1="140.6" x2="136.81" y2="148" stroke="#1e90ff" stroke-width="1.05"/>
<rect x="135.51" y="144" width="2.6" height="1.6" fill="#1e90ff"/>
<line x1="140.24" y1="138" x2="140.24" y2="145.6" stroke="#1e90ff" stroke-width="1.05"/>
<rect x="138.94" y="138.5" width="2.6" height="5.25" fill="#1e90ff"/>
<line x1="143.68" y1="137" x2="143.68" y2="149.6" stroke="#ff0000" stroke-width="1.05"/>
<rect x="142.38" y="137.25" width="2.6" height="12.15" fill="#ff0000"/>
<line x1="147.11" y1="142.5" x2="147.11" y2="149.4" stroke="#1e90ff" stroke-width="1.05"/>
<rect x="145.81" y="146.25" width="2.6" height="2.75" fill="#1e90ff"/>
<line x1="150.54" y1="133" x2="150.54" y2="149.6" stroke="#ff0000" stroke-width="1.05"/>
<rect x="149.24" y="146.25" width="2.6" height="3.15" fill="#ff0000"/>
<line x1="153.98" y1="135.6" x2="153.98" y2="149.6" stroke="#1e90ff" stroke-width="1.05"/>
<rect x="152.68" y="136.25" width="2.6" height="13.15" fill="#1e90ff"/>
<line x1="157.41" y1="98.75" x2="157.41" y2="140" stroke="#1e90ff" stroke-width="1.05"/>
<rect x="156.11" y="116.9" width="2.6" height="21.1" fill="#1e90ff"/>
<line x1="160.85" y1="115.5" x2="160.85" y2="124" stroke="#ff0000" stroke-width="1.05"/>
<rect x="159.55" y="116" width="2.6" height="7.75" fill="#ff0000"/>
<line x1="164.28" y1="113" x2="164.28" y2="124.4" stroke="#ff0000" stroke-width="1.05"/>
<rect x="162.98" y="120.6" width="2.6" height="3.4" fill="#ff0000"/>
<line x1="167.71" y1="122" x2="167.71" y2="137.5" stroke="#ff0000" stroke-width="1.05"/>
<rect x="166.41" y="123.75" width="2.6" height="5" fill="#ff0000"/>
<line x1="171.15" y1="126" x2="171.15" y2="142" stroke="#ff0000" stroke-width="1.05"/>
<rect x="169.85" y="127.5" width="2.6" height="5.5" fill="#ff0000"/>
<line x1="174.58" y1="125" x2="174.58" y2="147" stroke="#1e90ff" stroke-width="1.05"/>
<rect x="173.28" y="128" width="2.6" height="4" fill="#1e90ff"/>
<line x1="178.01" y1="127.5" x2="178.01" y2="144" stroke="#ff0000" stroke-width="1.05"/>
<rect x="176.71" y="128" width="2.6" height="15.75" fill="#ff0000"/>
<line x1="181.45" y1="129.4" x2="181.45" y2="145.6" stroke="#1e90ff" stroke-width="1.05"/>
<rect x="180.15" y="141.25" width="2.6" height="2.5" fill="#1e90ff"/>
<line x1="184.88" y1="101" x2="184.88" y2="143" stroke="#1e90ff" stroke-width="1.05"/>
<rect x="183.58" y="113.75" width="2.6" height="28.75" fill="#1e90ff"/>
<line x1="188.31" y1="108.75" x2="188.31" y2="129.4" stroke="#ff0000" stroke-width="1.05"/>
<rect x="187.01" y="113" width="2.6" height="13.25" fill="#ff0000"/>
<line x1="191.75" y1="120" x2="191.75" y2="138.75" stroke="#ff0000" stroke-width="1.05"/>
<rect x="190.45" y="123.75" width="2.6" height="11.25" fill="#ff0000"/>
<line x1="195.18" y1="130.6" x2="195.18" y2="145.6" stroke="#ff0000" stroke-width="1.05"/>
<rect x="193.88" y="133" width="2.6" height="2.6" fill="#ff0000"/>
<line x1="198.62" y1="131.25" x2="198.62" y2="143.5" stroke="#ff0000" stroke-width="1.05"/>
<rect x="197.32" y="133.75" width="2.6" height="9.25" fill="#ff0000"/>
<line x1="202.05" y1="138" x2="202.05" y2="152.5" stroke="#1e90ff" stroke-width="1.05"/>
<rect x="200.75" y="138.75" width="2.6" height="3.75" fill="#1e90ff"/>
<line x1="205.48" y1="138" x2="205.48" y2="149.4" stroke="#ff0000" stroke-width="1.05"/>
<rect x="204.18" y="140" width="2.6" height="6.9" fill="#ff0000"/>
<line x1="208.92" y1="145" x2="208.92" y2="156.25" stroke="#ff0000" stroke-width="1.05"/>
<rect x="207.62" y="145.6" width="2.6" height="6.3" fill="#ff0000"/>
<line x1="212.35" y1="146.9" x2="212.35" y2="154.4" stroke="#1e90ff" stroke-width="1.05"/>
<rect x="211.05" y="148" width="2.6" height="5" fill="#1e90ff"/>
<line x1="215.78" y1="230.6" x2="215.78" y2="259.4" stroke="#1e90ff" stroke-width="1.05"/>
<rect x="214.48" y="240.6" width="2.6" height="17.4" fill="#1e90ff"/>
<line x1="219.22" y1="232" x2="219.22" y2="248" stroke="#ff0000" stroke-width="1.05"/>
<rect x="217.92" y="241.25" width="2.6" height="4.35" fill="#ff0000"/>
<line x1="222.65" y1="218" x2="222.65" y2="246" stroke="#1e90ff" stroke-width="1.05"/>
<rect x="221.35" y="218.75" width="2.6" height="26.85" fill="#1e90ff"/>
<line x1="226.08" y1="217.5" x2="226.08" y2="225.6" stroke="#1e90ff" stroke-width="1.05"/>
<rect x="224.78" y="220.6" width="2.6" height="1.9" fill="#1e90ff"/>
<line x1="229.52" y1="218.75" x2="229.52" y2="233" stroke="#ff0000" stroke-width="1.05"/>
<rect x="228.22" y="219.4" width="2.6" height="7.5" fill="#ff0000"/>
<line x1="232.95" y1="221.5" x2="232.95" y2="228.75" stroke="#1e90ff" stroke-width="1.05"/>
<rect x="231.65" y="222" width="2.6" height="4.25" fill="#1e90ff"/>
<line x1="236.38" y1="222" x2="236.38" y2="228" stroke="#ff0000" stroke-width="1.05"/>
<rect x="235.08" y="222.5" width="2.6" height="3.1" fill="#ff0000"/>
<line x1="239.82" y1="218.75" x2="239.82" y2="227.5" stroke="#1e90ff" stroke-width="1.05"/>
<rect x="238.52" y="224.4" width="2.6" height="1.85" fill="#1e90ff"/>
<line x1="243.25" y1="212.5" x2="243.25" y2="225.5" stroke="#1e90ff" stroke-width="1.05"/>
<rect x="241.95" y="215.6" width="2.6" height="9.4" fill="#1e90ff"/>
<line x1="246.69" y1="209.6" x2="246.69" y2="226.9" stroke="#1e90ff" stroke-width="1.05"/>
<rect x="245.39" y="215.6" width="2.6" height="1.9" fill="#1e90ff"/>
<line x1="250.12" y1="201" x2="250.12" y2="218" stroke="#1e90ff" stroke-width="1.05"/>
<rect x="248.82" y="212" width="2.6" height="5.5" fill="#1e90ff"/>
<line x1="253.55" y1="209" x2="253.55" y2="222" stroke="#ff0000" stroke-width="1.05"/>
<rect x="252.25" y="213.4" width="2.6" height="2" fill="#ff0000"/>
<line x1="256.99" y1="207" x2="256.99" y2="220.6" stroke="#ff0000" stroke-width="1.05"/>
<rect x="255.69" y="213" width="2.6" height="4.5" fill="#ff0000"/>
<line x1="260.42" y1="200" x2="260.42" y2="226" stroke="#ff0000" stroke-width="1.05"/>
<rect x="259.12" y="217.5" width="2.6" height="8.1" fill="#ff0000"/>
<line x1="263.85" y1="209.4" x2="263.85" y2="226.5" stroke="#1e90ff" stroke-width="1.05"/>
<rect x="262.55" y="216.25" width="2.6" height="10" fill="#1e90ff"/>
<line x1="267.29" y1="212" x2="267.29" y2="248" stroke="#ff0000" stroke-width="1.05"/>
<rect x="265.99" y="217.5" width="2.6" height="27.5" fill="#ff0000"/>
<line x1="270.72" y1="229" x2="270.72" y2="250.6" stroke="#1e90ff" stroke-width="1.05"/>
<rect x="269.42" y="230.6" width="2.6" height="13.15" fill="#1e90ff"/>
<line x1="274.15" y1="227.5" x2="274.15" y2="245.6" stroke="#ff0000" stroke-width="1.05"/>
<rect x="272.85" y="230" width="2.6" height="6.9" fill="#ff0000"/>
<line x1="277.59" y1="217.5" x2="277.59" y2="245.6" stroke="#1e90ff" stroke-width="1.05"/>
<rect x="276.29" y="235" width="2.6" height="1.25" fill="#1e90ff"/>
<line x1="281.02" y1="207" x2="281.02" y2="240.6" stroke="#1e90ff" stroke-width="1.05"/>
<rect x="279.72" y="210" width="2.6" height="24.4" fill="#1e90ff"/>
<line x1="284.46" y1="207" x2="284.46" y2="223" stroke="#ff0000" stroke-width="1.05"/>
<rect x="283.16" y="209.4" width="2.6" height="11.85" fill="#ff0000"/>
<line x1="287.89" y1="183" x2="287.89" y2="222" stroke="#1e90ff" stroke-width="1.05"/>
<rect x="286.59" y="184.4" width="2.6" height="37.5" fill="#1e90ff"/>
<line x1="291.32" y1="176.25" x2="291.32" y2="205.6" stroke="#ff0000" stroke-width="1.05"/>
<rect x="290.02" y="183.75" width="2.6" height="16.25" fill="#ff0000"/>
<line x1="294.76" y1="188.75" x2="294.76" y2="204.4" stroke="#ff0000" stroke-width="1.05"/>
<rect x="293.46" y="197" width="2.6" height="5.5" fill="#ff0000"/>
<line x1="298.19" y1="193.75" x2="298.19" y2="211.25" stroke="#1e90ff" stroke-width="1.05"/>
<rect x="296.89" y="200" width="2.6" height="3" fill="#1e90ff"/>
<line x1="301.62" y1="192" x2="301.62" y2="205.6" stroke="#ff0000" stroke-width="1.05"/>
<rect x="300.32" y="199" width="2.6" height="1.6" fill="#ff0000"/>
<line x1="305.06" y1="194.4" x2="305.06" y2="207.5" stroke="#1e90ff" stroke-width="1.05"/>
<rect x="303.76" y="198" width="2.6" height="3.25" fill="#1e90ff"/>
<line x1="308.49" y1="193" x2="308.49" y2="205" stroke="#1e90ff" stroke-width="1.05"/>
<rect x="307.19" y="197" width="2.6" height="4.25" fill="#1e90ff"/>
<line x1="311.92" y1="188" x2="311.92" y2="198.75" stroke="#1e90ff" stroke-width="1.05"/>
<rect x="310.62" y="188.75" width="2.6" height="9.25" fill="#1e90ff"/>
<line x1="315.36" y1="164.4" x2="315.36" y2="192.5" stroke="#1e90ff" stroke-width="1.05"/>
<rect x="314.06" y="170" width="2.6" height="19.4" fill="#1e90ff"/>
<line x1="318.79" y1="165" x2="318.79" y2="180.6" stroke="#ff0000" stroke-width="1.05"/>
<rect x="317.49" y="168.75" width="2.6" height="10" fill="#ff0000"/>
<line x1="322.22" y1="165.6" x2="322.22" y2="181.25" stroke="#1e90ff" stroke-width="1.05"/>
<rect x="320.92" y="173.75" width="2.6" height="5" fill="#1e90ff"/>
<line x1="325.66" y1="173" x2="325.66" y2="191.25" stroke="#ff0000" stroke-width="1.05"/>
<rect x="324.36" y="175" width="2.6" height="13" fill="#ff0000"/>
<line x1="329.09" y1="180.6" x2="329.09" y2="198.75" stroke="#ff0000" stroke-width="1.05"/>
<rect x="327.79" y="188" width="2.6" height="2.6" fill="#ff0000"/>
<line x1="332.53" y1="185" x2="332.53" y2="216.25" stroke="#ff0000" stroke-width="1.05"/>
<rect x="331.23" y="188.75" width="2.6" height="10.65" fill="#ff0000"/>
<line x1="335.96" y1="183.75" x2="335.96" y2="205" stroke="#1e90ff" stroke-width="1.05"/>
<rect x="334.66" y="188.75" width="2.6" height="11.25" fill="#1e90ff"/>
<line x1="339.39" y1="168.75" x2="339.39" y2="194.4" stroke="#1e90ff" stroke-width="1.05"/>
<rect x="338.09" y="171.25" width="2.6" height="17.5" fill="#1e90ff"/>
<line x1="342.83" y1="165.6" x2="342.83" y2="223.75" stroke="#ff0000" stroke-width="1.05"/>
<rect x="341.53" y="172.5" width="2.6" height="43.1" fill="#ff0000"/>
<line x1="346.26" y1="197" x2="346.26" y2="216.9" stroke="#1e90ff" stroke-width="1.05"/>
<rect x="344.96" y="204.4" width="2.6" height="10" fill="#1e90ff"/>
<line x1="349.69" y1="204" x2="349.69" y2="216.9" stroke="#ff0000" stroke-width="1.05"/>
<rect x="348.39" y="205" width="2.6" height="2.5" fill="#ff0000"/>
<line x1="353.13" y1="182" x2="353.13" y2="208.75" stroke="#1e90ff" stroke-width="1.05"/>
<rect x="351.83" y="184.4" width="2.6" height="23.1" fill="#1e90ff"/>
<line x1="356.56" y1="173" x2="356.56" y2="232.5" stroke="#ff0000" stroke-width="1.05"/>
<rect x="355.26" y="183.75" width="2.6" height="41.85" fill="#ff0000"/>
<line x1="359.99" y1="211.25" x2="359.99" y2="234.4" stroke="#ff0000" stroke-width="1.05"/>
<rect x="358.69" y="221.9" width="2.6" height="4.35" fill="#ff0000"/>
<line x1="363.43" y1="207.5" x2="363.43" y2="231.25" stroke="#1e90ff" stroke-width="1.05"/>
<rect x="362.13" y="216.25" width="2.6" height="9.35" fill="#1e90ff"/>
<line x1="366.86" y1="207" x2="366.86" y2="216.9" stroke="#1e90ff" stroke-width="1.05"/>
<rect x="365.56" y="214.4" width="2.6" height="1.85" fill="#1e90ff"/>
<line x1="370.3" y1="212.5" x2="370.3" y2="224.4" stroke="#ff0000" stroke-width="1.05"/>
<rect x="369" y="214.4" width="2.6" height="8.6" fill="#ff0000"/>
<line x1="373.73" y1="220" x2="373.73" y2="228" stroke="#ff0000" stroke-width="1.05"/>
<rect x="372.43" y="222.5" width="2.6" height="3.1" fill="#ff0000"/>
<line x1="377.16" y1="218" x2="377.16" y2="227.5" stroke="#ff0000" stroke-width="1.05"/>
<rect x="375.86" y="225.6" width="2.6" height="1.65" fill="#ff0000"/>
<line x1="380.6" y1="220.6" x2="380.6" y2="230.6" stroke="#1e90ff" stroke-width="1.05"/>
<rect x="379.3" y="222.5" width="2.6" height="3.1" fill="#1e90ff"/>
<line x1="384.03" y1="222.5" x2="384.03" y2="231.25" stroke="#ff0000" stroke-width="1.05"/>
<rect x="382.73" y="222.4" width="2.6" height="0.9" fill="#ff0000"/>
<line x1="387.46" y1="217.5" x2="387.46" y2="225.6" stroke="#1e90ff" stroke-width="1.05"/>
<rect x="386.16" y="222" width="2.6" height="1" fill="#1e90ff"/>
<line x1="390.9" y1="219.5" x2="390.9" y2="239.4" stroke="#ff0000" stroke-width="1.05"/>
<rect x="389.6" y="220" width="2.6" height="17.5" fill="#ff0000"/>
<line x1="394.33" y1="230.5" x2="394.33" y2="240" stroke="#1e90ff" stroke-width="1.05"/>
<rect x="393.03" y="231.25" width="2.6" height="6.75" fill="#1e90ff"/>
<line x1="397.76" y1="230.6" x2="397.76" y2="241.25" stroke="#ff0000" stroke-width="1.05"/>
<rect x="396.46" y="232" width="2.6" height="4.9" fill="#ff0000"/>
<line x1="401.2" y1="231.25" x2="401.2" y2="236.25" stroke="#1e90ff" stroke-width="1.05"/>
<rect x="399.9" y="234.4" width="2.6" height="1.2" fill="#1e90ff"/>
<line x1="404.63" y1="233" x2="404.63" y2="254.9" stroke="#ff0000" stroke-width="1.05"/>
<rect x="403.33" y="233.6" width="2.6" height="19.4" fill="#ff0000"/>
<line x1="408.06" y1="243" x2="408.06" y2="254.25" stroke="#1e90ff" stroke-width="1.05"/>
<rect x="406.76" y="247.4" width="2.6" height="4.35" fill="#1e90ff"/>
<line x1="411.5" y1="234.5" x2="411.5" y2="248" stroke="#1e90ff" stroke-width="1.05"/>
<rect x="410.2" y="243" width="2.6" height="4.4" fill="#1e90ff"/>
<line x1="414.93" y1="221.9" x2="414.93" y2="246.25" stroke="#1e90ff" stroke-width="1.05"/>
<rect x="413.63" y="228" width="2.6" height="15.75" fill="#1e90ff"/>
<line x1="418.37" y1="215" x2="418.37" y2="241.9" stroke="#ff0000" stroke-width="1.05"/>
<rect x="417.07" y="228" width="2.6" height="5.75" fill="#ff0000"/>
<line x1="421.8" y1="199.4" x2="421.8" y2="235" stroke="#1e90ff" stroke-width="1.05"/>
<rect x="420.5" y="218" width="2.6" height="15.75" fill="#1e90ff"/>
<line x1="425.23" y1="207.5" x2="425.23" y2="226.25" stroke="#ff0000" stroke-width="1.05"/>
<rect x="423.93" y="219.4" width="2.6" height="6.2" fill="#ff0000"/>
<line x1="428.67" y1="206.25" x2="428.67" y2="233" stroke="#1e90ff" stroke-width="1.05"/>
<rect x="427.37" y="208.75" width="2.6" height="16.85" fill="#1e90ff"/>
<line x1="432.1" y1="197" x2="432.1" y2="215" stroke="#1e90ff" stroke-width="1.05"/>
<rect x="430.8" y="205" width="2.6" height="5.6" fill="#1e90ff"/>
<line x1="435.53" y1="197" x2="435.53" y2="210" stroke="#1e90ff" stroke-width="1.05"/>
<rect x="434.23" y="198.75" width="2.6" height="6.25" fill="#1e90ff"/>
<line x1="438.97" y1="183.75" x2="438.97" y2="222" stroke="#ff0000" stroke-width="1.05"/>
<rect x="437.67" y="198.75" width="2.6" height="21.25" fill="#ff0000"/>
<line x1="442.4" y1="213" x2="442.4" y2="228" stroke="#ff0000" stroke-width="1.05"/>
<rect x="441.1" y="217.5" width="2.6" height="3.1" fill="#ff0000"/>
<line x1="445.83" y1="216" x2="445.83" y2="227.4" stroke="#1e90ff" stroke-width="1.05"/>
<rect x="444.53" y="218.6" width="2.6" height="3.15" fill="#1e90ff"/>
<line x1="449.27" y1="217.4" x2="449.27" y2="229.25" stroke="#ff0000" stroke-width="1.05"/>
<rect x="447.97" y="219.9" width="2.6" height="8.7" fill="#ff0000"/>
<line x1="452.7" y1="209.5" x2="452.7" y2="229" stroke="#1e90ff" stroke-width="1.05"/>
<rect x="451.4" y="210" width="2.6" height="18.6" fill="#1e90ff"/>
<line x1="456.14" y1="201.25" x2="456.14" y2="210.6" stroke="#1e90ff" stroke-width="1.05"/>
<rect x="454.84" y="202.5" width="2.6" height="7.5" fill="#1e90ff"/>
<line x1="459.57" y1="200" x2="459.57" y2="208" stroke="#ff0000" stroke-width="1.05"/>
<rect x="458.27" y="201.9" width="2.6" height="3.1" fill="#ff0000"/>
<line x1="463" y1="198.75" x2="463" y2="206.9" stroke="#1e90ff" stroke-width="1.05"/>
<rect x="461.7" y="202.5" width="2.6" height="2.5" fill="#1e90ff"/>
<line x1="466.44" y1="197" x2="466.44" y2="204.4" stroke="#1e90ff" stroke-width="1.05"/>
<rect x="465.14" y="199.4" width="2.6" height="3.6" fill="#1e90ff"/>
<line x1="469.87" y1="194.4" x2="469.87" y2="203" stroke="#1e90ff" stroke-width="1.05"/>
<rect x="468.57" y="199.4" width="2.6" height="2.5" fill="#1e90ff"/>
<line x1="473.3" y1="194.4" x2="473.3" y2="203" stroke="#1e90ff" stroke-width="1.05"/>
<rect x="472" y="198.5" width="2.6" height="1.5" fill="#1e90ff"/>
<line x1="476.74" y1="195" x2="476.74" y2="203" stroke="#1e90ff" stroke-width="1.05"/>
<rect x="475.44" y="196.9" width="2.6" height="3.7" fill="#1e90ff"/>
<line x1="480.17" y1="191.25" x2="480.17" y2="198" stroke="#1e90ff" stroke-width="1.05"/>
<rect x="478.87" y="196.25" width="2.6" height="1.5" fill="#1e90ff"/>
<line x1="483.6" y1="195.6" x2="483.6" y2="202.5" stroke="#ff0000" stroke-width="1.05"/>
<rect x="482.3" y="196.9" width="2.6" height="4.35" fill="#ff0000"/>
<line x1="487.04" y1="195" x2="487.04" y2="202.5" stroke="#1e90ff" stroke-width="1.05"/>
<rect x="485.74" y="201.25" width="2.6" height="1.25" fill="#1e90ff"/>
<line x1="490.47" y1="195" x2="490.47" y2="204.4" stroke="#1e90ff" stroke-width="1.05"/>
<rect x="489.17" y="198" width="2.6" height="2.6" fill="#1e90ff"/>
<line x1="493.9" y1="191.9" x2="493.9" y2="205" stroke="#1e90ff" stroke-width="1.05"/>
<rect x="492.6" y="195" width="2.6" height="5" fill="#1e90ff"/>
<line x1="497.34" y1="176.25" x2="497.34" y2="202.5" stroke="#1e90ff" stroke-width="1.05"/>
<rect x="496.04" y="180" width="2.6" height="16.25" fill="#1e90ff"/>
<line x1="500.77" y1="180" x2="500.77" y2="207.5" stroke="#ff0000" stroke-width="1.05"/>
<rect x="499.47" y="180.6" width="2.6" height="19.4" fill="#ff0000"/>
<line x1="504.21" y1="189.4" x2="504.21" y2="209.4" stroke="#1e90ff" stroke-width="1.05"/>
<rect x="502.91" y="191.25" width="2.6" height="9.35" fill="#1e90ff"/>
<line x1="507.64" y1="168" x2="507.64" y2="192.5" stroke="#1e90ff" stroke-width="1.05"/>
<rect x="506.34" y="183" width="2.6" height="8.9" fill="#1e90ff"/>
<line x1="511.07" y1="168" x2="511.07" y2="185" stroke="#1e90ff" stroke-width="1.05"/>
<rect x="509.77" y="174.4" width="2.6" height="10" fill="#1e90ff"/>
<line x1="514.51" y1="163.5" x2="514.51" y2="195.6" stroke="#ff0000" stroke-width="1.05"/>
<rect x="513.21" y="176.25" width="2.6" height="17.5" fill="#ff0000"/>
<line x1="517.94" y1="189.4" x2="517.94" y2="205" stroke="#ff0000" stroke-width="1.05"/>
<rect x="516.64" y="193.5" width="2.6" height="4.5" fill="#ff0000"/>
<line x1="521.37" y1="185.6" x2="521.37" y2="210.6" stroke="#1e90ff" stroke-width="1.05"/>
<rect x="520.07" y="192" width="2.6" height="5.5" fill="#1e90ff"/>
<line x1="524.81" y1="180.6" x2="524.81" y2="205" stroke="#1e90ff" stroke-width="1.05"/>
<rect x="523.51" y="184.4" width="2.6" height="6.85" fill="#1e90ff"/>
<line x1="528.24" y1="178.75" x2="528.24" y2="192" stroke="#ff0000" stroke-width="1.05"/>
<rect x="526.94" y="183.75" width="2.6" height="5" fill="#ff0000"/>
<line x1="531.67" y1="185.6" x2="531.67" y2="195.5" stroke="#ff0000" stroke-width="1.05"/>
<rect x="530.37" y="186.9" width="2.6" height="8.1" fill="#ff0000"/>
<line x1="535.11" y1="190" x2="535.11" y2="196.5" stroke="#ff0000" stroke-width="1.05"/>
<rect x="533.81" y="193.75" width="2.6" height="2.5" fill="#ff0000"/>
<line x1="538.54" y1="193.75" x2="538.54" y2="208" stroke="#ff0000" stroke-width="1.05"/>
<rect x="537.24" y="196.9" width="2.6" height="1.1" fill="#ff0000"/>
<line x1="541.98" y1="191.25" x2="541.98" y2="202.5" stroke="#ff0000" stroke-width="1.05"/>
<rect x="540.68" y="196.9" width="2.6" height="5" fill="#ff0000"/>
<line x1="545.41" y1="196.9" x2="545.41" y2="209.4" stroke="#1e90ff" stroke-width="1.05"/>
<rect x="544.11" y="197.5" width="2.6" height="2.5" fill="#1e90ff"/>
<line x1="548.84" y1="196.9" x2="548.84" y2="204.4" stroke="#ff0000" stroke-width="1.05"/>
<rect x="547.54" y="198" width="2.6" height="3.9" fill="#ff0000"/>
<line x1="552.28" y1="194.4" x2="552.28" y2="202.5" stroke="#1e90ff" stroke-width="1.05"/>
<rect x="550.98" y="201.25" width="2.6" height="1.25" fill="#1e90ff"/>
<line x1="555.71" y1="193.5" x2="555.71" y2="202" stroke="#1e90ff" stroke-width="1.05"/>
<rect x="554.41" y="193.75" width="2.6" height="8.15" fill="#1e90ff"/>
<line x1="559.14" y1="192.5" x2="559.14" y2="198" stroke="#ff0000" stroke-width="1.05"/>
<rect x="557.84" y="193.75" width="2.6" height="3.75" fill="#ff0000"/>
<line x1="562.58" y1="190" x2="562.58" y2="198" stroke="#ff0000" stroke-width="1.05"/>
<rect x="561.28" y="195" width="2.6" height="1.9" fill="#ff0000"/>
<line x1="566.01" y1="191.9" x2="566.01" y2="198.75" stroke="#ff0000" stroke-width="1.05"/>
<rect x="564.71" y="193.75" width="2.6" height="4.25" fill="#ff0000"/>
<line x1="569.44" y1="186.9" x2="569.44" y2="198" stroke="#1e90ff" stroke-width="1.05"/>
<rect x="568.14" y="188" width="2.6" height="9.5" fill="#1e90ff"/>
<line x1="572.88" y1="185.6" x2="572.88" y2="200" stroke="#ff0000" stroke-width="1.05"/>
<rect x="571.58" y="188.75" width="2.6" height="9.25" fill="#ff0000"/>
<line x1="576.31" y1="191.9" x2="576.31" y2="200" stroke="#ff0000" stroke-width="1.05"/>
<rect x="575.01" y="196" width="2.6" height="1.5" fill="#ff0000"/>
<line x1="579.74" y1="189.4" x2="579.74" y2="205" stroke="#1e90ff" stroke-width="1.05"/>
<rect x="578.44" y="196.5" width="2.6" height="1.25" fill="#1e90ff"/>
<line x1="583.18" y1="193.75" x2="583.18" y2="298.75" stroke="#ff0000" stroke-width="1.05"/>
<rect x="581.88" y="197.5" width="2.6" height="96.9" fill="#ff0000"/>
<line x1="586.61" y1="273" x2="586.61" y2="294.8" stroke="#1e90ff" stroke-width="1.05"/>
<rect x="585.31" y="277.5" width="2.6" height="16.9" fill="#1e90ff"/>
<line x1="590.05" y1="276.5" x2="590.05" y2="298.75" stroke="#ff0000" stroke-width="1.05"/>
<rect x="588.75" y="276.9" width="2.6" height="18.7" fill="#ff0000"/>
<line x1="593.48" y1="276.5" x2="593.48" y2="296.5" stroke="#1e90ff" stroke-width="1.05"/>
<rect x="592.18" y="276.9" width="2.6" height="19.35" fill="#1e90ff"/>
<line x1="596.91" y1="277" x2="596.91" y2="299.4" stroke="#ff0000" stroke-width="1.05"/>
<rect x="595.61" y="277.5" width="2.6" height="9.4" fill="#ff0000"/>
<line x1="600.35" y1="283" x2="600.35" y2="307.5" stroke="#ff0000" stroke-width="1.05"/>
<rect x="599.05" y="286.9" width="2.6" height="9.35" fill="#ff0000"/>
<line x1="603.78" y1="291.9" x2="603.78" y2="315" stroke="#ff0000" stroke-width="1.05"/>
<rect x="602.48" y="294.4" width="2.6" height="6.2" fill="#ff0000"/>
<line x1="607.21" y1="285" x2="607.21" y2="301.9" stroke="#1e90ff" stroke-width="1.05"/>
<rect x="605.91" y="285.6" width="2.6" height="14.4" fill="#1e90ff"/>
<line x1="610.65" y1="277" x2="610.65" y2="290" stroke="#1e90ff" stroke-width="1.05"/>
<rect x="609.35" y="277.5" width="2.6" height="8.75" fill="#1e90ff"/>
<line x1="614.08" y1="276.5" x2="614.08" y2="295.3" stroke="#ff0000" stroke-width="1.05"/>
<rect x="612.78" y="276.9" width="2.6" height="18.1" fill="#ff0000"/>
<line x1="617.51" y1="289.4" x2="617.51" y2="298" stroke="#ff0000" stroke-width="1.05"/>
<rect x="616.21" y="293.75" width="2.6" height="1.85" fill="#ff0000"/>
<line x1="620.95" y1="284.4" x2="620.95" y2="295.8" stroke="#ff0000" stroke-width="1.05"/>
<rect x="619.65" y="294" width="2.6" height="1.6" fill="#ff0000"/>
<line x1="624.38" y1="278.5" x2="624.38" y2="288.75" stroke="#ff0000" stroke-width="1.05"/>
<rect x="623.08" y="278.75" width="2.6" height="8.15" fill="#ff0000"/>
<line x1="627.82" y1="277.5" x2="627.82" y2="289.4" stroke="#1e90ff" stroke-width="1.05"/>
<rect x="626.52" y="285" width="2.6" height="2.25" fill="#1e90ff"/>
<line x1="631.25" y1="281.25" x2="631.25" y2="291.9" stroke="#1e90ff" stroke-width="1.05"/>
<rect x="629.95" y="285" width="2.6" height="1.9" fill="#1e90ff"/>
<line x1="634.68" y1="283" x2="634.68" y2="288.75" stroke="#ff0000" stroke-width="1.05"/>
<rect x="633.38" y="285.6" width="2.6" height="1.9" fill="#ff0000"/>
<line x1="638.12" y1="281.9" x2="638.12" y2="288" stroke="#1e90ff" stroke-width="1.05"/>
<rect x="636.82" y="285.6" width="2.6" height="2.15" fill="#1e90ff"/>
<line x1="641.55" y1="277.5" x2="641.55" y2="286.9" stroke="#1e90ff" stroke-width="1.05"/>
<rect x="640.25" y="280.6" width="2.6" height="5" fill="#1e90ff"/>
<line x1="644.98" y1="279.5" x2="644.98" y2="288.75" stroke="#ff0000" stroke-width="1.05"/>
<rect x="643.68" y="280" width="2.6" height="5" fill="#ff0000"/>
<line x1="648.42" y1="280" x2="648.42" y2="286.9" stroke="#1e90ff" stroke-width="1.05"/>
<rect x="647.12" y="281.9" width="2.6" height="1.85" fill="#1e90ff"/>
<line x1="651.85" y1="281" x2="651.85" y2="293.75" stroke="#ff0000" stroke-width="1.05"/>
<rect x="650.55" y="281.25" width="2.6" height="8.15" fill="#ff0000"/>
<line x1="655.28" y1="283.75" x2="655.28" y2="295.6" stroke="#1e90ff" stroke-width="1.05"/>
<rect x="653.98" y="285.6" width="2.6" height="5" fill="#1e90ff"/>
<line x1="658.72" y1="266.9" x2="658.72" y2="289.4" stroke="#1e90ff" stroke-width="1.05"/>
<rect x="657.42" y="277.5" width="2.6" height="6.9" fill="#1e90ff"/>
<line x1="662.15" y1="268.75" x2="662.15" y2="307.5" stroke="#ff0000" stroke-width="1.05"/>
<rect x="660.85" y="278.75" width="2.6" height="18.15" fill="#ff0000"/>
<line x1="665.58" y1="277.5" x2="665.58" y2="298" stroke="#1e90ff" stroke-width="1.05"/>
<rect x="664.28" y="280.6" width="2.6" height="16.9" fill="#1e90ff"/>
<line x1="669.02" y1="276.25" x2="669.02" y2="287.5" stroke="#1e90ff" stroke-width="1.05"/>
<rect x="667.72" y="277.5" width="2.6" height="6.25" fill="#1e90ff"/>
<line x1="672.45" y1="270" x2="672.45" y2="281.9" stroke="#1e90ff" stroke-width="1.05"/>
<rect x="671.15" y="276" width="2.6" height="1.5" fill="#1e90ff"/>
<line x1="675.89" y1="261.9" x2="675.89" y2="276.5" stroke="#1e90ff" stroke-width="1.05"/>
<rect x="674.59" y="264.4" width="2.6" height="11.85" fill="#1e90ff"/>
<line x1="679.32" y1="259.4" x2="679.32" y2="271.25" stroke="#1e90ff" stroke-width="1.05"/>
<rect x="678.02" y="262.5" width="2.6" height="2.5" fill="#1e90ff"/>
<line x1="682.75" y1="258" x2="682.75" y2="271.25" stroke="#1e90ff" stroke-width="1.05"/>
<rect x="681.45" y="260.6" width="2.6" height="3.8" fill="#1e90ff"/>
<line x1="686.19" y1="250" x2="686.19" y2="267.5" stroke="#1e90ff" stroke-width="1.05"/>
<rect x="684.89" y="251.9" width="2.6" height="8.7" fill="#1e90ff"/>
<line x1="689.62" y1="246.25" x2="689.62" y2="260.6" stroke="#1e90ff" stroke-width="1.05"/>
<rect x="688.32" y="248.75" width="2.6" height="5.65" fill="#1e90ff"/>
<line x1="693.05" y1="240.6" x2="693.05" y2="252.5" stroke="#1e90ff" stroke-width="1.05"/>
<rect x="691.75" y="244.4" width="2.6" height="6.2" fill="#1e90ff"/>
<line x1="696.49" y1="231.25" x2="696.49" y2="248.75" stroke="#1e90ff" stroke-width="1.05"/>
<rect x="695.19" y="234.4" width="2.6" height="10.6" fill="#1e90ff"/>
<line x1="699.92" y1="233" x2="699.92" y2="241.25" stroke="#ff0000" stroke-width="1.05"/>
<rect x="698.62" y="233.75" width="2.6" height="5.65" fill="#ff0000"/>
<line x1="703.35" y1="231.5" x2="703.35" y2="241.25" stroke="#1e90ff" stroke-width="1.05"/>
<rect x="702.05" y="231.9" width="2.6" height="5" fill="#1e90ff"/>
<line x1="706.79" y1="232.5" x2="706.79" y2="239.4" stroke="#1e90ff" stroke-width="1.05"/>
<rect x="705.49" y="232.5" width="2.6" height="2.5" fill="#1e90ff"/>
<line x1="710.22" y1="216.25" x2="710.22" y2="233.5" stroke="#1e90ff" stroke-width="1.05"/>
<rect x="708.92" y="223" width="2.6" height="10" fill="#1e90ff"/>
<line x1="713.66" y1="220" x2="713.66" y2="230.6" stroke="#ff0000" stroke-width="1.05"/>
<rect x="712.36" y="223.75" width="2.6" height="3.75" fill="#ff0000"/>
<line x1="717.09" y1="221.9" x2="717.09" y2="231.9" stroke="#1e90ff" stroke-width="1.05"/>
<rect x="715.79" y="225" width="2.6" height="3.75" fill="#1e90ff"/>
<line x1="720.52" y1="225" x2="720.52" y2="230.6" stroke="#ff0000" stroke-width="1.05"/>
<rect x="719.22" y="226.25" width="2.6" height="1.25" fill="#ff0000"/>
<line x1="723.96" y1="216.25" x2="723.96" y2="228.75" stroke="#1e90ff" stroke-width="1.05"/>
<rect x="722.66" y="221.25" width="2.6" height="5.65" fill="#1e90ff"/>
<line x1="727.39" y1="220" x2="727.39" y2="229.4" stroke="#ff0000" stroke-width="1.05"/>
<rect x="726.09" y="220.6" width="2.6" height="6.9" fill="#ff0000"/>
<line x1="730.82" y1="220" x2="730.82" y2="228.5" stroke="#1e90ff" stroke-width="1.05"/>
<rect x="729.52" y="224.4" width="2.6" height="3.6" fill="#1e90ff"/>
<line x1="734.26" y1="224.4" x2="734.26" y2="231.9" stroke="#ff0000" stroke-width="1.05"/>
<rect x="732.96" y="225" width="2.6" height="1.5" fill="#ff0000"/>
<line x1="737.69" y1="226.25" x2="737.69" y2="238.75" stroke="#ff0000" stroke-width="1.05"/>
<rect x="736.39" y="226.9" width="2.6" height="1.1" fill="#ff0000"/>
<line x1="741.12" y1="204.4" x2="741.12" y2="232.5" stroke="#1e90ff" stroke-width="1.05"/>
<rect x="739.82" y="213" width="2.6" height="14.5" fill="#1e90ff"/>
<line x1="744.56" y1="178" x2="744.56" y2="222.5" stroke="#1e90ff" stroke-width="1.05"/>
<rect x="743.26" y="189.4" width="2.6" height="23.1" fill="#1e90ff"/>
<line x1="747.99" y1="189" x2="747.99" y2="212.5" stroke="#ff0000" stroke-width="1.05"/>
<rect x="746.69" y="189.4" width="2.6" height="19.35" fill="#ff0000"/>
<line x1="751.42" y1="200" x2="751.42" y2="212.5" stroke="#1e90ff" stroke-width="1.05"/>
<rect x="750.12" y="205" width="2.6" height="3" fill="#1e90ff"/>
<line x1="754.86" y1="203.75" x2="754.86" y2="212.5" stroke="#ff0000" stroke-width="1.05"/>
<rect x="753.56" y="205" width="2.6" height="5" fill="#ff0000"/>
<line x1="758.29" y1="189.4" x2="758.29" y2="210.5" stroke="#1e90ff" stroke-width="1.05"/>
<rect x="756.99" y="203" width="2.6" height="7" fill="#1e90ff"/>
<line x1="761.73" y1="201.9" x2="761.73" y2="212" stroke="#ff0000" stroke-width="1.05"/>
<rect x="760.43" y="204.4" width="2.6" height="5.6" fill="#ff0000"/>
<line x1="765.16" y1="207" x2="765.16" y2="235" stroke="#ff0000" stroke-width="1.05"/>
<rect x="763.86" y="207.5" width="2.6" height="21.9" fill="#ff0000"/>
<line x1="768.59" y1="221.25" x2="768.59" y2="245.5" stroke="#ff0000" stroke-width="1.05"/>
<rect x="767.29" y="229.4" width="2.6" height="15.6" fill="#ff0000"/>
<line x1="772.03" y1="235.6" x2="772.03" y2="245.8" stroke="#1e90ff" stroke-width="1.05"/>
<rect x="770.73" y="238.75" width="2.6" height="6.85" fill="#1e90ff"/>
<line x1="775.46" y1="228.75" x2="775.46" y2="241.25" stroke="#1e90ff" stroke-width="1.05"/>
<rect x="774.16" y="230.6" width="2.6" height="8.15" fill="#1e90ff"/>
<line x1="778.89" y1="225" x2="778.89" y2="234.6" stroke="#ff0000" stroke-width="1.05"/>
<rect x="777.59" y="230" width="2.6" height="4.4" fill="#ff0000"/>
<line x1="782.33" y1="227.5" x2="782.33" y2="235" stroke="#1e90ff" stroke-width="1.05"/>
<rect x="781.03" y="228.75" width="2.6" height="5" fill="#1e90ff"/>
<line x1="785.76" y1="221.9" x2="785.76" y2="230.6" stroke="#1e90ff" stroke-width="1.05"/>
<rect x="784.46" y="224.4" width="2.6" height="5.6" fill="#1e90ff"/>
<line x1="789.19" y1="218" x2="789.19" y2="225.6" stroke="#1e90ff" stroke-width="1.05"/>
<rect x="787.89" y="222.5" width="2.6" height="2.5" fill="#1e90ff"/>
<line x1="792.63" y1="216.5" x2="792.63" y2="227" stroke="#1e90ff" stroke-width="1.05"/>
<rect x="791.33" y="218.75" width="2.6" height="6.85" fill="#1e90ff"/>
<line x1="796.06" y1="213.75" x2="796.06" y2="223.5" stroke="#1e90ff" stroke-width="1.05"/>
<rect x="794.76" y="215" width="2.6" height="3.75" fill="#1e90ff"/>
<line x1="799.5" y1="205" x2="799.5" y2="216" stroke="#1e90ff" stroke-width="1.05"/>
<rect x="798.2" y="211.9" width="2.6" height="3.7" fill="#1e90ff"/>
<line x1="802.93" y1="212" x2="802.93" y2="216" stroke="#ff0000" stroke-width="1.05"/>
<rect x="801.63" y="212.5" width="2.6" height="3.1" fill="#ff0000"/>
<line x1="806.36" y1="209.4" x2="806.36" y2="216.9" stroke="#ff0000" stroke-width="1.05"/>
<rect x="805.06" y="213.75" width="2.6" height="1.85" fill="#ff0000"/>
<line x1="809.8" y1="212" x2="809.8" y2="219.6" stroke="#ff0000" stroke-width="1.05"/>
<rect x="808.5" y="212.5" width="2.6" height="6.9" fill="#ff0000"/>
<line x1="813.23" y1="211.9" x2="813.23" y2="220.6" stroke="#1e90ff" stroke-width="1.05"/>
<rect x="811.93" y="213.75" width="2.6" height="5.65" fill="#1e90ff"/>
<line x1="816.66" y1="210.6" x2="816.66" y2="223" stroke="#ff0000" stroke-width="1.05"/>
<rect x="815.36" y="213.75" width="2.6" height="9.05" fill="#ff0000"/>
<line x1="820.1" y1="218" x2="820.1" y2="231.9" stroke="#ff0000" stroke-width="1.05"/>
<rect x="818.8" y="221.9" width="2.6" height="6.1" fill="#ff0000"/>
<line x1="823.53" y1="225.6" x2="823.53" y2="240.6" stroke="#ff0000" stroke-width="1.05"/>
<rect x="822.23" y="227.5" width="2.6" height="11.25" fill="#ff0000"/>
<line x1="826.96" y1="234.4" x2="826.96" y2="261.9" stroke="#ff0000" stroke-width="1.05"/>
<rect x="825.66" y="237.5" width="2.6" height="20.5" fill="#ff0000"/>
<line x1="830.4" y1="247.5" x2="830.4" y2="266.25" stroke="#1e90ff" stroke-width="1.05"/>
<rect x="829.1" y="248" width="2.6" height="9.5" fill="#1e90ff"/>
<line x1="833.83" y1="238" x2="833.83" y2="252.5" stroke="#1e90ff" stroke-width="1.05"/>
<rect x="832.53" y="246.9" width="2.6" height="1.1" fill="#1e90ff"/>
<line x1="837.26" y1="240.6" x2="837.26" y2="252.5" stroke="#ff0000" stroke-width="1.05"/>
<rect x="835.96" y="247.5" width="2.6" height="3.75" fill="#ff0000"/>
<line x1="840.7" y1="247.5" x2="840.7" y2="268.75" stroke="#ff0000" stroke-width="1.05"/>
<rect x="839.4" y="250" width="2.6" height="3.75" fill="#ff0000"/>
<line x1="844.13" y1="252" x2="844.13" y2="265.6" stroke="#ff0000" stroke-width="1.05"/>
<rect x="842.83" y="252.5" width="2.6" height="12.8" fill="#ff0000"/>
<line x1="847.57" y1="263.75" x2="847.57" y2="280" stroke="#ff0000" stroke-width="1.05"/>
<rect x="846.27" y="265" width="2.6" height="6.25" fill="#ff0000"/>
<line x1="851" y1="266.9" x2="851" y2="285.6" stroke="#ff0000" stroke-width="1.05"/>
<rect x="849.7" y="270.6" width="2.6" height="13.8" fill="#ff0000"/>
<line x1="854.43" y1="281.25" x2="854.43" y2="296.25" stroke="#ff0000" stroke-width="1.05"/>
<rect x="853.13" y="283" width="2.6" height="11.4" fill="#ff0000"/>
<line x1="857.87" y1="282.5" x2="857.87" y2="295.3" stroke="#1e90ff" stroke-width="1.05"/>
<rect x="856.57" y="283" width="2.6" height="12" fill="#1e90ff"/>
<line x1="861.3" y1="281.25" x2="861.3" y2="286.9" stroke="#1e90ff" stroke-width="1.05"/>
<rect x="860" y="281.25" width="2.6" height="1.5" fill="#1e90ff"/>
</g>
<g fill="#fff" stroke="#ff0000" stroke-width="1">
<rect x="3.1" y="174.55" width="3.3" height="3.5"/>
<rect x="963.3" y="174.55" width="3.3" height="3.5"/>
<rect x="3.1" y="220.4" width="3.3" height="3.5"/>
<rect x="963.3" y="220.4" width="3.3" height="3.5"/>
</g>
<g stroke="#3a3a3a" fill="none">
<line x1="2.3" y1="2" x2="2.3" y2="414.6" stroke-width="1.3"/>
<line x1="2" y1="2.5" x2="968.4" y2="2.5" stroke-width="1.1"/>
<line x1="967.8" y1="2" x2="967.8" y2="412.8" stroke-width="1.4"/>
<line x1="2" y1="412.3" x2="969.6" y2="412.3" stroke-width="1.1"/>
</g>
<g stroke="#3a3a3a" stroke-width="0.9">
<line x1="968" y1="320.9" x2="970" y2="320.9"/>
<line x1="968" y1="291.97" x2="970" y2="291.97"/>
<line x1="968" y1="263.04" x2="970" y2="263.04"/>
<line x1="968" y1="234.11" x2="970" y2="234.11"/>
<line x1="968" y1="205.18" x2="970" y2="205.18"/>
<line x1="968" y1="176.25" x2="970" y2="176.25"/>
<line x1="968" y1="147.32" x2="970" y2="147.32"/>
<line x1="968" y1="118.39" x2="970" y2="118.39"/>
<line x1="968" y1="89.46" x2="970" y2="89.46"/>
<line x1="968" y1="60.53" x2="970" y2="60.53"/>
<line x1="968" y1="31.6" x2="970" y2="31.6"/>
<line x1="968" y1="2.67" x2="970" y2="2.67"/>
<line x1="968" y1="327.6" x2="970" y2="327.6"/>
<line x1="968" y1="354" x2="970" y2="354"/>
<line x1="968" y1="407.3" x2="970" y2="407.3"/>
</g>
<g font-size="8.5" fill="#000">
<text x="972.9" y="323.8" textLength="22.8" lengthAdjust="spacingAndGlyphs">1.4975</text>
<text x="972.9" y="294.87" textLength="22.8" lengthAdjust="spacingAndGlyphs">1.5020</text>
<text x="972.9" y="265.94" textLength="22.8" lengthAdjust="spacingAndGlyphs">1.5065</text>
<text x="972.9" y="237.01" textLength="22.8" lengthAdjust="spacingAndGlyphs">1.5110</text>
<text x="972.9" y="208.08" textLength="22.8" lengthAdjust="spacingAndGlyphs">1.5155</text>
<text x="972.9" y="179.15" textLength="22.8" lengthAdjust="spacingAndGlyphs">1.5200</text>
<text x="972.9" y="150.22" textLength="22.8" lengthAdjust="spacingAndGlyphs">1.5245</text>
<text x="972.9" y="121.29" textLength="22.8" lengthAdjust="spacingAndGlyphs">1.5290</text>
<text x="972.9" y="92.36" textLength="22.8" lengthAdjust="spacingAndGlyphs">1.5335</text>
<text x="972.9" y="63.43" textLength="22.8" lengthAdjust="spacingAndGlyphs">1.5380</text>
<text x="972.9" y="34.5" textLength="22.8" lengthAdjust="spacingAndGlyphs">1.5425</text>
<text x="972.9" y="5.57" textLength="22.8" lengthAdjust="spacingAndGlyphs">1.5470</text>
<text x="970.8" y="335.8" textLength="27.2" lengthAdjust="spacingAndGlyphs">0.00519</text>
<text x="972.9" y="356.6" textLength="15.2" lengthAdjust="spacingAndGlyphs">0.00</text>
<text x="971" y="409.7" textLength="26.5" lengthAdjust="spacingAndGlyphs">-0.0116</text>
</g>
<g font-size="8.5">
<rect x="970.1" y="94.6" width="28.9" height="9" fill="#ff0000"/>
<text x="973.2" y="102.3" fill="#fff" stroke="#fff" style="stroke:#fff" textLength="22.6" lengthAdjust="spacingAndGlyphs">1.5320</text>
<rect x="970.1" y="158.05" width="28.9" height="9" fill="#ff0000"/>
<text x="973.2" y="165.75" fill="#fff" stroke="#fff" style="stroke:#fff" textLength="22.6" lengthAdjust="spacingAndGlyphs">1.5220</text>
<rect x="970.1" y="170.9" width="28.9" height="9" fill="#ff0000"/>
<text x="973.2" y="178.6" fill="#fff" stroke="#fff" style="stroke:#fff" textLength="22.6" lengthAdjust="spacingAndGlyphs">1.5200</text>
<rect x="970.1" y="216.75" width="28.9" height="9" fill="#ff0000"/>
<text x="973.2" y="224.45" fill="#fff" stroke="#fff" style="stroke:#fff" textLength="22.6" lengthAdjust="spacingAndGlyphs">1.5130</text>
<rect x="970.1" y="300" width="28.9" height="9" fill="#ff0000"/>
<text x="973.2" y="307.7" fill="#fff" stroke="#fff" style="stroke:#fff" textLength="22.6" lengthAdjust="spacingAndGlyphs">1.5000</text>
<rect x="970.1" y="310.1" width="28.9" height="9" fill="#ff0000"/>
<text x="973.2" y="317.8" fill="#fff" stroke="#fff" style="stroke:#fff" textLength="22.6" lengthAdjust="spacingAndGlyphs">1.4985</text>
<rect x="970.1" y="275.9" width="28.9" height="9" fill="#000"/>
<text x="973.2" y="283.6" fill="#fff" style="stroke:#fff" textLength="22.6" lengthAdjust="spacingAndGlyphs">1.5037</text>
</g>
<g stroke="#3a3a3a" stroke-width="0.9">
<line x1="57.84" y1="412.3" x2="57.84" y2="415.2"/>
<line x1="112.78" y1="412.3" x2="112.78" y2="415.2"/>
<line x1="167.71" y1="412.3" x2="167.71" y2="415.2"/>
<line x1="222.65" y1="412.3" x2="222.65" y2="415.2"/>
<line x1="277.59" y1="412.3" x2="277.59" y2="415.2"/>
<line x1="332.53" y1="412.3" x2="332.53" y2="415.2"/>
<line x1="387.46" y1="412.3" x2="387.46" y2="415.2"/>
<line x1="442.4" y1="412.3" x2="442.4" y2="415.2"/>
<line x1="497.34" y1="412.3" x2="497.34" y2="415.2"/>
<line x1="552.28" y1="412.3" x2="552.28" y2="415.2"/>
<line x1="607.21" y1="412.3" x2="607.21" y2="415.2"/>
<line x1="662.15" y1="412.3" x2="662.15" y2="415.2"/>
<line x1="717.09" y1="412.3" x2="717.09" y2="415.2"/>
<line x1="772.03" y1="412.3" x2="772.03" y2="415.2"/>
<line x1="826.96" y1="412.3" x2="826.96" y2="415.2"/>
</g>
<g font-size="8.5" fill="#000">
<text x="1.4" y="424" textLength="44.8" lengthAdjust="spacingAndGlyphs">20 Feb 2013</text>
<text x="56.34" y="424" textLength="46.8" lengthAdjust="spacingAndGlyphs">21 Feb 01:00</text>
<text x="111.28" y="424" textLength="46.8" lengthAdjust="spacingAndGlyphs">21 Feb 17:00</text>
<text x="166.21" y="424" textLength="46.8" lengthAdjust="spacingAndGlyphs">22 Feb 09:00</text>
<text x="221.15" y="424" textLength="46.8" lengthAdjust="spacingAndGlyphs">25 Feb 02:00</text>
<text x="276.09" y="424" textLength="46.8" lengthAdjust="spacingAndGlyphs">25 Feb 18:00</text>
<text x="331.03" y="424" textLength="46.8" lengthAdjust="spacingAndGlyphs">26 Feb 10:00</text>
<text x="385.96" y="424" textLength="46.8" lengthAdjust="spacingAndGlyphs">27 Feb 02:00</text>
<text x="440.9" y="424" textLength="46.8" lengthAdjust="spacingAndGlyphs">27 Feb 18:00</text>
<text x="495.84" y="424" textLength="46.8" lengthAdjust="spacingAndGlyphs">28 Feb 10:00</text>
<text x="550.78" y="424" textLength="42.4" lengthAdjust="spacingAndGlyphs">1 Mar 02:00</text>
<text x="605.71" y="424" textLength="42.4" lengthAdjust="spacingAndGlyphs">1 Mar 18:00</text>
<text x="660.65" y="424" textLength="42.4" lengthAdjust="spacingAndGlyphs">4 Mar 11:00</text>
<text x="715.59" y="424" textLength="42.4" lengthAdjust="spacingAndGlyphs">5 Mar 03:00</text>
<text x="770.53" y="424" textLength="42.4" lengthAdjust="spacingAndGlyphs">5 Mar 19:00</text>
<text x="825.46" y="424" textLength="42.4" lengthAdjust="spacingAndGlyphs">6 Mar 11:00</text>
</g>
<rect x="4" y="3.3" width="157.5" height="10.2" fill="#fffafa"/>
<text x="5.8" y="12.2" font-size="8.5" fill="#000" textLength="46.2" lengthAdjust="spacingAndGlyphs">GBPUSD,H1</text>
<text x="57.9" y="12.2" font-size="8.5" fill="#000" textLength="22.8" lengthAdjust="spacingAndGlyphs">1.5035</text>
<text x="84.6" y="12.2" font-size="8.5" fill="#000" textLength="22.8" lengthAdjust="spacingAndGlyphs">1.5038</text>
<text x="111.3" y="12.2" font-size="8.5" fill="#000" textLength="22.8" lengthAdjust="spacingAndGlyphs">1.5029</text>
<text x="137.8" y="12.2" font-size="8.5" fill="#000" textLength="22.8" lengthAdjust="spacingAndGlyphs">1.5037</text>
<text x="5.85" y="339" font-size="8.5" fill="#000" textLength="52.4" lengthAdjust="spacingAndGlyphs">MACD(5,34,5)</text>
<text x="61.1" y="339" font-size="8.5" fill="#000" textLength="29.5" lengthAdjust="spacingAndGlyphs">-0.00505</text>
<text x="94.9" y="339" font-size="8.5" fill="#000" textLength="29.7" lengthAdjust="spacingAndGlyphs">-0.00467</text>
<text x="4.6" y="409" font-size="9.2" fill="#000" textLength="231.5" lengthAdjust="spacingAndGlyphs">MetaTrader, © 2001-2012, MetaQuotes Software Corp.</text>
</svg>
</body></html>
